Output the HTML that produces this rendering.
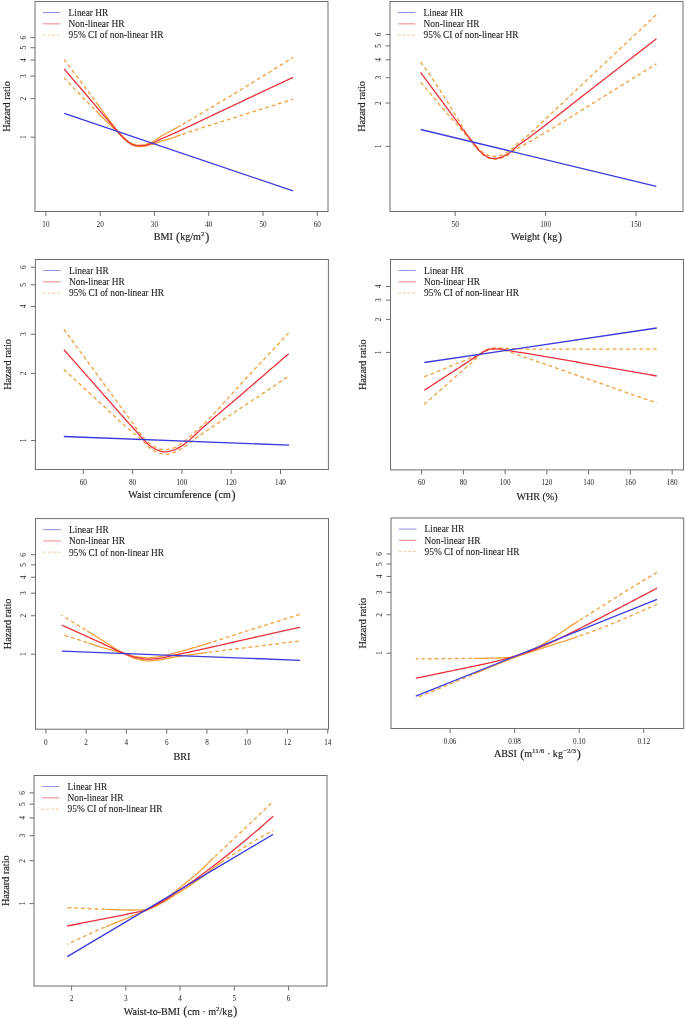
<!DOCTYPE html>
<html><head><meta charset="utf-8"><style>
html,body{margin:0;padding:0;background:#fff;}
body{width:685px;height:1018px;overflow:hidden;}
svg{display:block;will-change:transform;}
text{font-family:"Liberation Serif", serif;fill:#222;stroke:#222;stroke-width:0.16px;}
text.t{stroke:none;}
text.l{stroke-width:0.1px;}
</style></head><body>
<svg width="685" height="1018" viewBox="0 0 685 1018">
<rect width="685" height="1018" fill="#fff"/>
<rect x="35" y="1.5" width="293" height="210" fill="none" stroke="#6e6e6e" stroke-width="1"/>
<line x1="45.9" y1="211.5" x2="45.9" y2="216" stroke="#6e6e6e" stroke-width="1"/>
<text x="45.9" y="226.9" font-size="7.2" text-anchor="middle" class="t">10</text>
<line x1="100.18" y1="211.5" x2="100.18" y2="216" stroke="#6e6e6e" stroke-width="1"/>
<text x="100.18" y="226.9" font-size="7.2" text-anchor="middle" class="t">20</text>
<line x1="154.46" y1="211.5" x2="154.46" y2="216" stroke="#6e6e6e" stroke-width="1"/>
<text x="154.46" y="226.9" font-size="7.2" text-anchor="middle" class="t">30</text>
<line x1="208.74" y1="211.5" x2="208.74" y2="216" stroke="#6e6e6e" stroke-width="1"/>
<text x="208.74" y="226.9" font-size="7.2" text-anchor="middle" class="t">40</text>
<line x1="263.02" y1="211.5" x2="263.02" y2="216" stroke="#6e6e6e" stroke-width="1"/>
<text x="263.02" y="226.9" font-size="7.2" text-anchor="middle" class="t">50</text>
<line x1="317.3" y1="211.5" x2="317.3" y2="216" stroke="#6e6e6e" stroke-width="1"/>
<text x="317.3" y="226.9" font-size="7.2" text-anchor="middle" class="t">60</text>
<line x1="30.5" y1="137.2" x2="35" y2="137.2" stroke="#6e6e6e" stroke-width="1"/>
<text x="25.6" y="137.2" font-size="7.4" text-anchor="middle" transform="rotate(-90 25.6 137.2)" class="t">1</text>
<line x1="30.5" y1="98.66" x2="35" y2="98.66" stroke="#6e6e6e" stroke-width="1"/>
<text x="25.6" y="98.66" font-size="7.4" text-anchor="middle" transform="rotate(-90 25.6 98.66)" class="t">2</text>
<line x1="30.5" y1="76.12" x2="35" y2="76.12" stroke="#6e6e6e" stroke-width="1"/>
<text x="25.6" y="76.12" font-size="7.4" text-anchor="middle" transform="rotate(-90 25.6 76.12)" class="t">3</text>
<line x1="30.5" y1="60.12" x2="35" y2="60.12" stroke="#6e6e6e" stroke-width="1"/>
<text x="25.6" y="60.12" font-size="7.4" text-anchor="middle" transform="rotate(-90 25.6 60.12)" class="t">4</text>
<line x1="30.5" y1="47.72" x2="35" y2="47.72" stroke="#6e6e6e" stroke-width="1"/>
<text x="25.6" y="47.72" font-size="7.4" text-anchor="middle" transform="rotate(-90 25.6 47.72)" class="t">5</text>
<line x1="30.5" y1="37.58" x2="35" y2="37.58" stroke="#6e6e6e" stroke-width="1"/>
<text x="25.6" y="37.58" font-size="7.4" text-anchor="middle" transform="rotate(-90 25.6 37.58)" class="t">6</text>
<text x="10.1" y="106.5" font-size="10.2" text-anchor="middle" transform="rotate(-90 10.1 106.5)">Hazard ratio</text>
<text x="181.5" y="240.1" text-anchor="middle"><tspan font-size="10.1" dy="0">BMI </tspan><tspan font-size="12.2" dy="0.6" dx="0.7">(</tspan><tspan font-size="10.1" dy="-0.6">kg/m</tspan><tspan font-size="7.1" dy="-4.0">2</tspan><tspan font-size="12.2" dy="4.6" dx="0.7">)</tspan></text>
<line x1="42.8" y1="12.6" x2="60.3" y2="12.6" stroke="#3a3ae0" stroke-width="0.8" opacity="0.75"/>
<text x="68.6" y="15.9" font-size="9.35" text-anchor="start" class="l">Linear HR</text>
<line x1="42.8" y1="23.85" x2="60.3" y2="23.85" stroke="#e8313a" stroke-width="0.8" opacity="0.75"/>
<text x="68.6" y="27.15" font-size="9.35" text-anchor="start" class="l">Non-linear HR</text>
<line x1="42.8" y1="35.1" x2="60.3" y2="35.1" stroke="#f2a03c" stroke-width="0.8" opacity="0.75" stroke-dasharray="2.6 2.1"/>
<text x="68.6" y="38.4" font-size="9.35" text-anchor="start" class="l">95% CI of non-linear HR</text>
<path d="M94.42 99.87 L93.7 98.9 L92.98 97.93 L91.54 96 L90.1 94.07 L88.66 92.14 L87.22 90.21 L85.78 88.28 L84.35 86.36 L82.91 84.43 L81.47 82.51 L80.03 80.59 L78.59 78.67 L77.15 76.76 L75.71 74.84 L74.27 72.93 L72.83 71.02 L71.39 69.11 L69.96 67.2 L68.52 65.3 L67.08 63.4 L65.64 61.5 L64.2 59.6" fill="none" stroke="#f2a03c" stroke-width="1.3" stroke-dasharray="3.8 2.9"/>
<path d="M95.86 101.81 L97.3 103.77 L98.74 105.73 L100.17 107.69 L101.61 109.66 L103.05 111.63 L104.49 113.59 L105.93 115.55 L107.37 117.5 L108.81 119.44 L110.25 121.37 L111.69 123.29 L112 123.7 L113.13 125.2 L114.56 127.13 L116 129.01 L117.3 130.6 L117.44 130.77 L118.88 132.41 L120.32 133.98 L121.76 135.46 L122.5 136.2 L123.2 136.89 L124.64 138.3 L126.08 139.63 L127.52 140.79 L127.8 141 L128.95 141.81 L130.39 142.76 L131.83 143.54 L133 144 L133.27 144.08 L134.71 144.51 L136.15 144.86 L137.59 145.07 L138.3 145.1 L139.03 145.09 L140.47 145.04 L141.91 144.94 L143.34 144.81 L143.5 144.8 L144.78 144.6 L146.22 144.23 L147.66 143.77 L148.8 143.4 L149.1 143.3 L150.54 142.78 L151.98 142.18 L153.2 141.6 L153.42 141.49 L154.86 140.63 L156.3 139.61 L157.73 138.52 L159.17 137.44 L160.61 136.44 L161 136.2 L162.05 135.57 L163.49 134.76 L164.93 133.99 L166.37 133.24 L167.81 132.5 L169.25 131.76 L170.69 131.01 L172 130.3 L172.12 130.23 L173.56 129.44 L175 128.63 L176.44 127.82 L177.88 127.01 L179.32 126.19 L180 125.8 L180.76 125.37" fill="none" stroke="#f2a03c" stroke-width="1.3" stroke-linejoin="round"/>
<path d="M182.2 124.54 L183.64 123.71 L185.08 122.88 L186.51 122.05 L187.95 121.22 L189.39 120.38 L190.83 119.55 L192.27 118.71 L193.71 117.87 L195.15 117.03 L196.59 116.19 L198.03 115.35 L199.47 114.5 L200.9 113.65 L202.34 112.81 L203.78 111.96 L205.22 111.11 L206.66 110.26 L208.1 109.4 L209.54 108.55 L210.98 107.7 L212.42 106.84 L213.86 105.98 L215.29 105.12 L216.73 104.26 L218.17 103.4 L219.61 102.54 L221.05 101.68 L222.49 100.82 L223.93 99.95 L225.37 99.09 L226.81 98.22 L228.25 97.36 L229.68 96.49 L230 96.3 L231.12 95.62 L232.56 94.75 L234 93.88 L235.44 93.01 L236.88 92.14 L238.32 91.27 L239.76 90.4 L241.2 89.52 L242.64 88.65 L244.07 87.77 L245.51 86.89 L246.95 86.02 L248.39 85.14 L249.83 84.26 L251.27 83.38 L252.71 82.49 L254.15 81.61 L255.59 80.73 L257.03 79.84 L258.46 78.96 L259.9 78.07 L261.34 77.18 L262.78 76.29 L264.22 75.4 L265.66 74.51 L267.1 73.62 L268.54 72.73 L269.98 71.84 L271.42 70.94 L272.85 70.05 L274.29 69.15 L275.73 68.25 L277.17 67.35 L278.61 66.45 L280.05 65.55 L281.49 64.65 L282.93 63.75 L284.37 62.84 L285.81 61.94 L287.24 61.03 L288.68 60.13 L290.12 59.22 L291.56 58.31 L293 57.4" fill="none" stroke="#f2a03c" stroke-width="1.3" stroke-dasharray="3.8 2.9"/>
<path d="M94.42 109.3 L92.98 107.83 L91.54 106.36 L90.7 105.5 L90.1 104.89 L88.66 103.42 L87.22 101.95 L85.78 100.48 L84.35 99 L82.91 97.52 L81.47 96.04 L80.03 94.56 L78.59 93.07 L77.15 91.57 L75.71 90.08 L74.27 88.58 L72.83 87.08 L71.39 85.57 L69.96 84.07 L68.52 82.55 L67.08 81.04 L65.64 79.52 L64.2 78" fill="none" stroke="#f2a03c" stroke-width="1.3" stroke-dasharray="3.8 2.9"/>
<path d="M95.86 110.77 L97.3 112.24 L98.74 113.7 L100.17 115.16 L101.61 116.62 L103.05 118.07 L104.49 119.51 L105.93 120.94 L107.37 122.35 L108.81 123.75 L110.25 125.14 L111.69 126.5 L112 126.8 L113.13 127.83 L114.56 129.09 L116 130.36 L117.3 131.6 L117.44 131.74 L118.88 133.31 L120.32 134.99 L121.76 136.63 L122.5 137.4 L123.2 138.1 L124.64 139.5 L126.08 140.81 L127.52 141.99 L127.8 142.2 L128.95 143.05 L130.39 144.07 L131.83 144.92 L133 145.4 L133.27 145.48 L134.71 145.91 L136.15 146.26 L137.59 146.47 L138.3 146.5 L139.03 146.5 L140.47 146.48 L141.91 146.45 L143.34 146.41 L143.5 146.4 L144.78 146.25 L146.22 145.91 L147.66 145.49 L148.8 145.2 L149.1 145.13 L150.54 144.83 L151.98 144.51 L153.2 144.2 L153.42 144.14 L154.86 143.66 L156.3 143.09 L157.73 142.48 L159.17 141.88 L160.61 141.33 L161 141.2 L162.05 140.87 L163.49 140.45 L164.93 140.06 L166.37 139.68 L167.81 139.3 L169.25 138.92 L170.69 138.51 L172 138.1 L172.12 138.06 L173.56 137.56 L175 137.02 L176.44 136.45 L177.88 135.89 L179.32 135.35 L180 135.1 L180.76 134.83" fill="none" stroke="#f2a03c" stroke-width="1.3" stroke-linejoin="round"/>
<path d="M182.2 134.33 L183.64 133.83 L185.08 133.34 L186.51 132.85 L187.95 132.36 L189.39 131.88 L190.83 131.4 L192.27 130.92 L193.71 130.45 L195.15 129.98 L196.59 129.51 L198.03 129.05 L199.47 128.59 L200.9 128.13 L202.34 127.67 L203.78 127.21 L205.22 126.76 L206.66 126.31 L208.1 125.85 L209.54 125.4 L210.98 124.95 L212.42 124.5 L213.86 124.06 L215.29 123.61 L216.73 123.16 L218.17 122.71 L219.61 122.26 L221.05 121.81 L222.49 121.36 L223.93 120.91 L225.37 120.46 L226.81 120.01 L228.25 119.56 L229.68 119.1 L230 119 L231.12 118.64 L232.56 118.19 L234 117.73 L235.44 117.27 L236.88 116.82 L238.32 116.36 L239.76 115.91 L241.2 115.45 L242.64 115 L244.07 114.55 L245.51 114.09 L246.95 113.64 L248.39 113.19 L249.83 112.73 L251.27 112.28 L252.71 111.83 L254.15 111.38 L255.59 110.92 L257.03 110.47 L258.46 110.02 L259.9 109.57 L261.34 109.12 L262.78 108.67 L264.22 108.22 L265.66 107.77 L267.1 107.32 L268.54 106.87 L269.98 106.43 L271.42 105.98 L272.85 105.53 L274.29 105.08 L275.73 104.64 L277.17 104.19 L278.61 103.74 L280.05 103.3 L281.49 102.85 L282.93 102.41 L284.37 101.96 L285.81 101.52 L287.24 101.07 L288.68 100.63 L290.12 100.19 L291.56 99.74 L293 99.3" fill="none" stroke="#f2a03c" stroke-width="1.3" stroke-dasharray="3.8 2.9"/>
<path d="M64.2 69 L65.64 70.68 L67.08 72.37 L68.52 74.05 L69.96 75.73 L71.39 77.42 L72.83 79.1 L74.27 80.78 L75.71 82.47 L77.15 84.15 L78.59 85.84 L80.03 87.52 L81.47 89.21 L82.91 90.89 L84.35 92.58 L85.78 94.26 L87.22 95.95 L88.66 97.63 L90 99.2 L90.1 99.32 L91.54 101.01 L92.98 102.7 L94.42 104.39 L95.86 106.08 L97.3 107.78 L98.74 109.47 L100.17 111.16 L101.61 112.86 L103.05 114.55 L104.49 116.24 L105.93 117.92 L107.37 119.61 L108.81 121.29 L110.25 122.96 L111.69 124.64 L112 125 L113.13 126.31 L114.56 127.98 L116 129.63 L117.3 131.1 L117.44 131.26 L118.88 132.89 L120.32 134.5 L121.76 136.05 L122.5 136.8 L123.2 137.49 L124.64 138.9 L126.08 140.22 L127.52 141.39 L127.8 141.6 L128.95 142.43 L130.39 143.41 L131.83 144.23 L133 144.7 L133.27 144.78 L134.71 145.21 L136.15 145.56 L137.59 145.77 L138.3 145.8 L139.03 145.8 L140.47 145.76 L141.91 145.7 L143.34 145.61 L143.5 145.6 L144.78 145.42 L146.22 145.06 L147.66 144.63 L148.8 144.3 L149.1 144.22 L150.54 143.83 L151.98 143.41 L153.2 143 L153.42 142.92 L154.86 142.29 L156.3 141.55 L157.73 140.75 L159.17 139.94 L160.61 139.19 L161 139 L162.05 138.51 L163.49 137.86 L164.93 137.23 L166.37 136.61 L167.81 136 L169.25 135.39 L170.69 134.78 L172 134.2 L172.12 134.14 L173.56 133.51 L175 132.86 L176.44 132.22 L177.88 131.57 L179.32 130.91 L180 130.6 L180.76 130.25 L182.2 129.59 L183.64 128.93 L185.08 128.26 L186.51 127.59 L187.95 126.92 L189.39 126.25 L190.83 125.58 L192.27 124.9 L193.71 124.23 L195.15 123.55 L196.59 122.87 L198.03 122.19 L199.47 121.51 L200.9 120.83 L202.34 120.14 L203.78 119.46 L205.22 118.78 L206.66 118.09 L208.1 117.4 L209.54 116.72 L210.98 116.03 L212.42 115.35 L213.86 114.66 L215.29 113.98 L216.73 113.29 L218.17 112.61 L219.61 111.92 L221.05 111.24 L222.49 110.55 L223.93 109.87 L225.37 109.19 L226.81 108.51 L228.25 107.83 L229.68 107.15 L230 107 L231.12 106.47 L232.56 105.79 L234 105.12 L235.44 104.44 L236.88 103.76 L238.32 103.08 L239.76 102.41 L241.2 101.73 L242.64 101.05 L244.07 100.37 L245.51 99.7 L246.95 99.02 L248.39 98.34 L249.83 97.67 L251.27 96.99 L252.71 96.31 L254.15 95.64 L255.59 94.96 L257.03 94.28 L258.46 93.61 L259.9 92.93 L261.34 92.26 L262.78 91.58 L264.22 90.9 L265.66 90.23 L267.1 89.55 L268.54 88.88 L269.98 88.2 L271.42 87.52 L272.85 86.85 L274.29 86.17 L275.73 85.5 L277.17 84.82 L278.61 84.15 L280.05 83.47 L281.49 82.8 L282.93 82.12 L284.37 81.45 L285.81 80.77 L287.24 80.1 L288.68 79.42 L290.12 78.75 L291.56 78.07 L293 77.4" fill="none" stroke="#e8313a" stroke-width="1.3" stroke-linejoin="round"/>
<path d="M64.2 113.3 L293 190.9" fill="none" stroke="#3a3ae0" stroke-width="1.3" stroke-linejoin="round"/>
<rect x="390" y="1.5" width="293" height="210" fill="none" stroke="#6e6e6e" stroke-width="1"/>
<line x1="455.2" y1="211.5" x2="455.2" y2="216" stroke="#6e6e6e" stroke-width="1"/>
<text x="455.2" y="226.9" font-size="7.2" text-anchor="middle" class="t">50</text>
<line x1="545.6" y1="211.5" x2="545.6" y2="216" stroke="#6e6e6e" stroke-width="1"/>
<text x="545.6" y="226.9" font-size="7.2" text-anchor="middle" class="t">100</text>
<line x1="636" y1="211.5" x2="636" y2="216" stroke="#6e6e6e" stroke-width="1"/>
<text x="636" y="226.9" font-size="7.2" text-anchor="middle" class="t">150</text>
<line x1="385.5" y1="146.3" x2="390" y2="146.3" stroke="#6e6e6e" stroke-width="1"/>
<text x="380.6" y="146.3" font-size="7.4" text-anchor="middle" transform="rotate(-90 380.6 146.3)" class="t">1</text>
<line x1="385.5" y1="103.05" x2="390" y2="103.05" stroke="#6e6e6e" stroke-width="1"/>
<text x="380.6" y="103.05" font-size="7.4" text-anchor="middle" transform="rotate(-90 380.6 103.05)" class="t">2</text>
<line x1="385.5" y1="77.75" x2="390" y2="77.75" stroke="#6e6e6e" stroke-width="1"/>
<text x="380.6" y="77.75" font-size="7.4" text-anchor="middle" transform="rotate(-90 380.6 77.75)" class="t">3</text>
<line x1="385.5" y1="59.8" x2="390" y2="59.8" stroke="#6e6e6e" stroke-width="1"/>
<text x="380.6" y="59.8" font-size="7.4" text-anchor="middle" transform="rotate(-90 380.6 59.8)" class="t">4</text>
<line x1="385.5" y1="45.87" x2="390" y2="45.87" stroke="#6e6e6e" stroke-width="1"/>
<text x="380.6" y="45.87" font-size="7.4" text-anchor="middle" transform="rotate(-90 380.6 45.87)" class="t">5</text>
<line x1="385.5" y1="34.49" x2="390" y2="34.49" stroke="#6e6e6e" stroke-width="1"/>
<text x="380.6" y="34.49" font-size="7.4" text-anchor="middle" transform="rotate(-90 380.6 34.49)" class="t">6</text>
<text x="365.1" y="106.5" font-size="10.2" text-anchor="middle" transform="rotate(-90 365.1 106.5)">Hazard ratio</text>
<text x="536.5" y="240.4" text-anchor="middle"><tspan font-size="10.1" dy="0">Weight </tspan><tspan font-size="12.2" dy="0.6" dx="0.7">(</tspan><tspan font-size="10.1" dy="-0.6">kg</tspan><tspan font-size="12.2" dy="0.6" dx="0.7">)</tspan></text>
<line x1="397.8" y1="12.6" x2="415.3" y2="12.6" stroke="#3a3ae0" stroke-width="0.8" opacity="0.75"/>
<text x="423.6" y="15.9" font-size="9.35" text-anchor="start" class="l">Linear HR</text>
<line x1="397.8" y1="23.85" x2="415.3" y2="23.85" stroke="#e8313a" stroke-width="0.8" opacity="0.75"/>
<text x="423.6" y="27.15" font-size="9.35" text-anchor="start" class="l">Non-linear HR</text>
<line x1="397.8" y1="35.1" x2="415.3" y2="35.1" stroke="#f2a03c" stroke-width="0.8" opacity="0.75" stroke-dasharray="2.6 2.1"/>
<text x="423.6" y="38.4" font-size="9.35" text-anchor="start" class="l">95% CI of non-linear HR</text>
<path d="M420.7 62 L422.18 64.04 L423.66 66.1 L425.15 68.18 L426.63 70.28 L428.11 72.4 L429.59 74.55 L431.08 76.71 L432.56 78.9 L434.04 81.1 L435.52 83.32 L437.01 85.55 L438.49 87.81 L439.97 90.08 L441.45 92.36 L442.94 94.66 L444.42 96.97 L445.9 99.3 L445.9 99.3 L447.38 101.66 L448.87 104.07 L450.35 106.51 L451.83 108.98 L453.31 111.48 L454.79 113.98 L456.28 116.5 L457.76 119 L459.24 121.5 L460.72 123.98 L461.4 125.1 L462.21 126.46 L463.69 129.05 L465.17 131.69 L466.65 134.29 L468.14 136.74 L469.62 138.97 L470.7 140.4 L471.1 140.89 L472.58 142.57 L474.07 144.11 L475.55 145.52 L477.03 146.86 L478.1 147.8 L478.51 148.16 L480 149.52 L481.48 150.89 L482.96 152.2 L484.44 153.39 L485.93 154.37 L487.41 155.07 L487.8 155.2 L488.89 155.52 L490.37 155.92 L491.85 156.22 L493.34 156.39 L493.9 156.4 L494.82 156.37 L496.3 156.24 L497.78 156.02 L499.27 155.75 L500 155.6 L500.75 155.41 L502.23 154.85 L503.71 154.14 L505.2 153.35 L505.3 153.3 L506.68 152.52 L508.16 151.57 L509.64 150.53 L511.13 149.41 L511.4 149.2 L512.61 148.17 L514.09 146.75 L515.57 145.27 L517.06 143.88 L517.5 143.5 L518.54 142.67 L520.02 141.56 L521.5 140.5 L522.98 139.44 L524.47 138.32 L525 137.9 L525.95 137.12 L527.43 135.87 L528.91 134.58 L530.4 133.26 L531.88 131.91 L533.36 130.53 L534.84 129.14 L536.33 127.74 L537.81 126.32 L539.29 124.91 L540.77 123.49 L542.26 122.08 L543.74 120.68 L545 119.5 L545.22 119.29 L546.7 117.91 L548.19 116.53 L549.67 115.15 L551.15 113.76 L552.63 112.37 L554.12 110.98 L555.6 109.59 L557.08 108.2 L558.56 106.8 L560.04 105.4 L561.53 104.01 L563.01 102.61 L564.49 101.21 L565.97 99.8 L567.46 98.4 L568.94 97 L570.42 95.59 L571.9 94.19 L573.39 92.79 L574.87 91.38 L576.35 89.97 L577.83 88.57 L579.32 87.16 L580.8 85.76 L582.28 84.35 L583.76 82.95 L585.25 81.54 L586.73 80.14 L588.21 78.73 L589.69 77.33 L591.17 75.93 L592.66 74.52 L594.14 73.12 L595.62 71.73 L597.1 70.33 L598.59 68.93 L600 67.6 L600.07 67.53 L601.55 66.14 L603.03 64.75 L604.52 63.35 L606 61.96 L607.48 60.56 L608.96 59.17 L610.45 57.78 L611.93 56.39 L613.41 54.99 L614.89 53.6 L616.38 52.21 L617.86 50.82 L619.34 49.42 L620.82 48.03 L622.31 46.64 L623.79 45.25 L625.27 43.86 L626.75 42.47 L628.23 41.08 L629.72 39.69 L631.2 38.3 L632.68 36.91 L634.16 35.52 L635.65 34.13 L637.13 32.74 L638.61 31.35 L640.09 29.96 L641.58 28.57 L643.06 27.18 L644.54 25.8 L646.02 24.41 L647.51 23.02 L648.99 21.63 L650.47 20.25 L651.95 18.86 L653.44 17.47 L654.92 16.09 L656.4 14.7" fill="none" stroke="#f2a03c" stroke-width="1.3" stroke-dasharray="3.8 2.9"/>
<path d="M420.7 82.3 L422.18 84.07 L423.66 85.84 L425.15 87.61 L426.63 89.37 L428.11 91.13 L429.59 92.89 L431.08 94.64 L432.56 96.39 L434.04 98.13 L435.52 99.88 L437.01 101.62 L438.49 103.35 L439.97 105.09 L441.45 106.82 L442.94 108.55 L444.42 110.28 L445.9 112 L445.9 112 L447.38 113.72 L448.87 115.42 L450.35 117.11 L451.83 118.8 L453.31 120.49 L454.79 122.17 L456.28 123.86 L457.76 125.57 L459.24 127.28 L460.72 129.01 L461.4 129.8 L462.21 130.75 L463.69 132.52 L465.17 134.3 L466.65 136.09 L468.14 137.89 L469.62 139.69 L470.7 141 L471.1 141.49 L472.58 143.37 L474.07 145.28 L475.55 147.14 L477.03 148.87 L478.1 150 L478.51 150.41 L480 151.91 L481.48 153.39 L482.96 154.79 L484.44 156.05 L485.93 157.09 L487.41 157.85 L487.8 158 L488.89 158.37 L490.37 158.83 L491.85 159.19 L493.34 159.38 L493.9 159.4 L494.82 159.37 L496.3 159.24 L497.78 159.02 L499.27 158.75 L500 158.6 L500.75 158.42 L502.23 157.9 L503.71 157.25 L505.2 156.55 L505.3 156.5 L506.68 155.81 L508.16 155 L509.64 154.11 L511.13 153.18 L511.4 153 L512.61 152.16 L514.09 151.02 L515.57 149.86 L517.06 148.79 L517.5 148.5 L518.54 147.87 L520.02 147.04 L521.5 146.25 L522.98 145.48 L524.47 144.69 L525 144.4 L525.95 143.87 L527.43 143.03 L528.91 142.19 L530.4 141.34 L531.88 140.49 L533.36 139.64 L534.84 138.78 L536.33 137.92 L537.81 137.05 L539.29 136.18 L540.77 135.31 L542.26 134.43 L543.74 133.55 L545 132.8 L545.22 132.67 L546.7 131.78 L548.19 130.9 L549.67 130 L551.15 129.11 L552.63 128.21 L554.12 127.31 L555.6 126.41 L557.08 125.5 L558.56 124.59 L560.04 123.68 L561.53 122.77 L563.01 121.86 L564.49 120.94 L565.97 120.02 L567.46 119.1 L568.94 118.18 L570.42 117.26 L571.9 116.34 L573.39 115.41 L574.87 114.49 L576.35 113.56 L577.83 112.63 L579.32 111.71 L580.8 110.78 L582.28 109.85 L583.76 108.92 L585.25 108 L586.73 107.07 L588.21 106.14 L589.69 105.22 L591.17 104.29 L592.66 103.36 L594.14 102.44 L595.62 101.52 L597.1 100.6 L598.59 99.68 L600 98.8 L600.07 98.76 L601.55 97.84 L603.03 96.92 L604.52 96 L606 95.08 L607.48 94.17 L608.96 93.25 L610.45 92.33 L611.93 91.41 L613.41 90.49 L614.89 89.57 L616.38 88.65 L617.86 87.73 L619.34 86.81 L620.82 85.89 L622.31 84.97 L623.79 84.05 L625.27 83.14 L626.75 82.22 L628.23 81.3 L629.72 80.38 L631.2 79.46 L632.68 78.54 L634.16 77.62 L635.65 76.69 L637.13 75.77 L638.61 74.85 L640.09 73.93 L641.58 73.01 L643.06 72.09 L644.54 71.17 L646.02 70.25 L647.51 69.33 L648.99 68.41 L650.47 67.49 L651.95 66.56 L653.44 65.64 L654.92 64.72 L656.4 63.8" fill="none" stroke="#f2a03c" stroke-width="1.3" stroke-dasharray="3.8 2.9"/>
<path d="M420.7 72.5 L422.18 74.52 L423.66 76.53 L425.15 78.54 L426.63 80.56 L428.11 82.57 L429.59 84.58 L431.08 86.58 L432.56 88.59 L434.04 90.6 L435.52 92.6 L437.01 94.61 L438.49 96.61 L439.97 98.61 L441.45 100.61 L442.94 102.61 L444.42 104.6 L445.9 106.6 L445.9 106.6 L447.38 108.6 L448.87 110.6 L450.35 112.61 L451.83 114.61 L453.31 116.62 L454.79 118.62 L456.28 120.61 L457.76 122.61 L459.24 124.59 L460.72 126.57 L462.21 128.53 L463.69 130.48 L465 132.2 L465.17 132.42 L466.65 134.33 L468.14 136.21 L469.62 138.09 L471.1 139.97 L472.58 141.89 L472.9 142.3 L474.07 143.89 L475.55 145.99 L477.03 148 L478.1 149.3 L478.51 149.76 L480 151.33 L481.48 152.74 L482.5 153.6 L482.96 153.97 L484.44 155.13 L485.93 156.17 L487.41 156.95 L487.8 157.1 L488.89 157.47 L490.37 157.93 L491.85 158.29 L493.34 158.48 L493.9 158.5 L494.82 158.47 L496.3 158.32 L497.78 158.07 L499.27 157.76 L500 157.6 L500.75 157.4 L502.23 156.87 L503.71 156.19 L505.2 155.45 L505.3 155.4 L506.68 154.66 L508.16 153.77 L509.64 152.78 L511.13 151.71 L511.4 151.5 L512.61 150.48 L514.09 149.05 L515.57 147.56 L517.06 146.17 L517.5 145.8 L518.54 144.99 L520.02 143.92 L521.5 142.91 L522.98 141.91 L524.47 140.88 L525 140.5 L525.95 139.81 L527.43 138.72 L528.91 137.62 L530.4 136.52 L531.88 135.42 L533.36 134.31 L534.84 133.19 L536.33 132.07 L537.81 130.95 L539.29 129.82 L540.77 128.69 L542.26 127.56 L543.74 126.42 L545.22 125.27 L546.7 124.13 L548.19 122.98 L549.67 121.83 L551.15 120.67 L552.63 119.52 L554.12 118.36 L555.6 117.2 L557.08 116.04 L558.56 114.87 L560.04 113.71 L561.53 112.54 L563.01 111.38 L564.49 110.21 L565.97 109.04 L567.46 107.87 L568.94 106.7 L570.42 105.53 L571.9 104.36 L573.39 103.2 L574.87 102.03 L576.35 100.86 L577.83 99.7 L579.32 98.53 L580.8 97.37 L582.28 96.21 L583.76 95.05 L585.25 93.89 L586.73 92.74 L588.21 91.59 L589.69 90.44 L590 90.2 L591.17 89.29 L592.66 88.14 L594.14 87 L595.62 85.85 L597.1 84.7 L598.59 83.55 L600.07 82.41 L601.55 81.26 L603.03 80.11 L604.52 78.96 L606 77.82 L607.48 76.67 L608.96 75.52 L610.45 74.37 L611.93 73.23 L613.41 72.08 L614.89 70.93 L616.38 69.78 L617.86 68.64 L619.34 67.49 L620.82 66.34 L622.31 65.19 L623.79 64.05 L625.27 62.9 L626.75 61.75 L628.23 60.6 L629.72 59.46 L631.2 58.31 L632.68 57.16 L634.16 56.01 L635.65 54.87 L637.13 53.72 L638.61 52.57 L640.09 51.42 L641.58 50.28 L643.06 49.13 L644.54 47.98 L646.02 46.83 L647.51 45.69 L648.99 44.54 L650.47 43.39 L651.95 42.24 L653.44 41.1 L654.92 39.95 L656.4 38.8" fill="none" stroke="#e8313a" stroke-width="1.3" stroke-linejoin="round"/>
<path d="M420.7 129.5 L656.3 186.3" fill="none" stroke="#3a3ae0" stroke-width="1.3" stroke-linejoin="round"/>
<rect x="35.4" y="259.5" width="293" height="210" fill="none" stroke="#6e6e6e" stroke-width="1"/>
<line x1="83.3" y1="469.5" x2="83.3" y2="474" stroke="#6e6e6e" stroke-width="1"/>
<text x="83.3" y="484.9" font-size="7.2" text-anchor="middle" class="t">60</text>
<line x1="132.6" y1="469.5" x2="132.6" y2="474" stroke="#6e6e6e" stroke-width="1"/>
<text x="132.6" y="484.9" font-size="7.2" text-anchor="middle" class="t">80</text>
<line x1="181.9" y1="469.5" x2="181.9" y2="474" stroke="#6e6e6e" stroke-width="1"/>
<text x="181.9" y="484.9" font-size="7.2" text-anchor="middle" class="t">100</text>
<line x1="231.2" y1="469.5" x2="231.2" y2="474" stroke="#6e6e6e" stroke-width="1"/>
<text x="231.2" y="484.9" font-size="7.2" text-anchor="middle" class="t">120</text>
<line x1="280.5" y1="469.5" x2="280.5" y2="474" stroke="#6e6e6e" stroke-width="1"/>
<text x="280.5" y="484.9" font-size="7.2" text-anchor="middle" class="t">140</text>
<line x1="30.9" y1="440.5" x2="35.4" y2="440.5" stroke="#6e6e6e" stroke-width="1"/>
<text x="26" y="440.5" font-size="7.4" text-anchor="middle" transform="rotate(-90 26 440.5)" class="t">1</text>
<line x1="30.9" y1="373.47" x2="35.4" y2="373.47" stroke="#6e6e6e" stroke-width="1"/>
<text x="26" y="373.47" font-size="7.4" text-anchor="middle" transform="rotate(-90 26 373.47)" class="t">2</text>
<line x1="30.9" y1="334.26" x2="35.4" y2="334.26" stroke="#6e6e6e" stroke-width="1"/>
<text x="26" y="334.26" font-size="7.4" text-anchor="middle" transform="rotate(-90 26 334.26)" class="t">3</text>
<line x1="30.9" y1="306.45" x2="35.4" y2="306.45" stroke="#6e6e6e" stroke-width="1"/>
<text x="26" y="306.45" font-size="7.4" text-anchor="middle" transform="rotate(-90 26 306.45)" class="t">4</text>
<line x1="30.9" y1="284.87" x2="35.4" y2="284.87" stroke="#6e6e6e" stroke-width="1"/>
<text x="26" y="284.87" font-size="7.4" text-anchor="middle" transform="rotate(-90 26 284.87)" class="t">5</text>
<line x1="30.9" y1="267.24" x2="35.4" y2="267.24" stroke="#6e6e6e" stroke-width="1"/>
<text x="26" y="267.24" font-size="7.4" text-anchor="middle" transform="rotate(-90 26 267.24)" class="t">6</text>
<text x="10.5" y="364.5" font-size="10.2" text-anchor="middle" transform="rotate(-90 10.5 364.5)">Hazard ratio</text>
<text x="181.9" y="498.3" text-anchor="middle"><tspan font-size="10.1" dy="0">Waist circumference </tspan><tspan font-size="12.2" dy="0.6" dx="0.7">(</tspan><tspan font-size="10.1" dy="-0.6">cm</tspan><tspan font-size="12.2" dy="0.6" dx="0.7">)</tspan></text>
<line x1="43.2" y1="270.6" x2="60.7" y2="270.6" stroke="#3a3ae0" stroke-width="0.8" opacity="0.75"/>
<text x="69" y="273.9" font-size="9.35" text-anchor="start" class="l">Linear HR</text>
<line x1="43.2" y1="281.85" x2="60.7" y2="281.85" stroke="#e8313a" stroke-width="0.8" opacity="0.75"/>
<text x="69" y="285.15" font-size="9.35" text-anchor="start" class="l">Non-linear HR</text>
<line x1="43.2" y1="293.1" x2="60.7" y2="293.1" stroke="#f2a03c" stroke-width="0.8" opacity="0.75" stroke-dasharray="2.6 2.1"/>
<text x="69" y="296.4" font-size="9.35" text-anchor="start" class="l">95% CI of non-linear HR</text>
<path d="M63.8 329.2 L65.21 331.12 L66.63 333.05 L68.04 334.97 L69.46 336.89 L70.87 338.82 L72.29 340.74 L73.7 342.67 L75.12 344.59 L76.53 346.52 L77.94 348.44 L79.36 350.37 L80.77 352.29 L82.19 354.22 L83.6 356.15 L85.02 358.07 L86.43 360 L87.85 361.93 L89.26 363.85 L90.67 365.78 L92.09 367.71 L93.5 369.64 L94.92 371.57 L96.33 373.5 L97.75 375.43 L99.16 377.36 L100 378.5 L100.58 379.29 L101.99 381.21 L103.41 383.14 L104.82 385.07 L106.23 386.99 L107.65 388.92 L109.06 390.84 L110.48 392.77 L111.89 394.7 L113.31 396.62 L114.72 398.55 L116.14 400.48 L117.55 402.41 L118.96 404.34 L120.38 406.27 L121.79 408.21 L123.21 410.15 L124.62 412.09 L126.04 414.03 L127.45 415.98 L128.87 417.93 L130 419.5 L130.28 419.89 L131.69 421.86 L133.11 423.85 L134.52 425.83 L135.94 427.78 L136.1 428 L137.35 429.73 L138.77 431.71 L140.18 433.65 L141.6 435.5 L143.01 437.18 L143.3 437.5 L144.42 438.69 L145.84 440.13 L147.25 441.47 L148.67 442.69 L150.08 443.78 L150.4 444 L151.5 444.75 L152.91 445.67 L154.33 446.52 L155.74 447.26 L157.15 447.85 L157.6 448 L158.57 448.31 L159.98 448.76 L161.4 449.15 L162.81 449.44 L164.23 449.59 L164.7 449.6 L165.64 449.57 L167.06 449.44 L168.47 449.23 L169.88 448.95 L171.3 448.64 L171.9 448.5 L172.71 448.27 L174.13 447.72 L175.54 447.01 L176.96 446.21 L178.37 445.37 L179 445 L179.79 444.52 L181.2 443.59 L182.62 442.58 L184.03 441.52 L185.44 440.41 L186.86 439.28 L187.2 439 L188.27 438.11 L189.69 436.86 L191.1 435.58 L192.52 434.29 L193.4 433.5 L193.93 433.03 L195.35 431.81 L196.76 430.6 L198.17 429.36 L199.59 428.08 L200 427.7 L201 426.75 L202.42 425.39 L203.83 424.01 L205.25 422.61 L206.66 421.19 L208.08 419.76 L209.49 418.31 L210.9 416.84 L212.32 415.36 L213.73 413.86 L215.15 412.36 L216.56 410.84 L217.98 409.31 L219.39 407.77 L220.81 406.23 L222.22 404.67 L223.63 403.11 L225.05 401.55 L226.46 399.98 L227.88 398.41 L229.29 396.84 L230.71 395.27 L232.12 393.7 L233.54 392.13 L234.95 390.56 L236.36 389 L237.78 387.44 L239.19 385.89 L240.61 384.34 L242.02 382.81 L243.44 381.28 L244.85 379.76 L245 379.6 L246.27 378.25 L247.68 376.74 L249.09 375.22 L250.51 373.71 L251.92 372.2 L253.34 370.69 L254.75 369.18 L256.17 367.67 L257.58 366.15 L259 364.64 L260.41 363.13 L261.83 361.62 L263.24 360.11 L264.65 358.6 L266.07 357.08 L267.48 355.57 L268.9 354.06 L270.31 352.55 L271.73 351.04 L273.14 349.53 L274.56 348.01 L275.97 346.5 L277.38 344.99 L278.8 343.48 L280.21 341.97 L281.63 340.46 L283.04 338.95 L284.46 337.43 L285.87 335.92 L287.29 334.41 L288.7 332.9" fill="none" stroke="#f2a03c" stroke-width="1.3" stroke-dasharray="3.8 2.9"/>
<path d="M63.8 369.5 L65.21 370.8 L66.63 372.1 L68.04 373.39 L69.46 374.69 L70.87 375.99 L72.29 377.29 L73.7 378.58 L75.12 379.88 L76.53 381.18 L77.94 382.47 L79.36 383.77 L80.77 385.07 L82.19 386.37 L83.6 387.66 L85.02 388.96 L86.43 390.26 L87.85 391.56 L89.26 392.85 L90.67 394.15 L92.09 395.45 L93.5 396.74 L94.92 398.04 L96.33 399.34 L97.75 400.63 L99.16 401.93 L100 402.7 L100.58 403.23 L101.99 404.54 L103.41 405.85 L104.82 407.17 L106.23 408.5 L107.65 409.83 L109.06 411.17 L110.48 412.5 L111.89 413.84 L113.31 415.17 L114.72 416.5 L116.14 417.83 L117.55 419.15 L118.96 420.45 L120.38 421.75 L121.79 423.04 L123.21 424.31 L124.62 425.57 L126.04 426.82 L127.45 428.04 L128.87 429.25 L130 430.2 L130.28 430.43 L131.69 431.56 L133.11 432.64 L134.52 433.73 L135.94 434.86 L136.1 435 L137.35 436.07 L138.77 437.32 L140.18 438.6 L141.6 439.9 L143.01 441.23 L143.3 441.5 L144.42 442.62 L145.84 444.12 L147.25 445.63 L148.67 447.05 L150.08 448.27 L150.4 448.5 L151.5 449.26 L152.91 450.19 L154.33 451.02 L155.74 451.75 L157.15 452.34 L157.6 452.5 L158.57 452.83 L159.98 453.3 L161.4 453.71 L162.81 454.03 L164.23 454.19 L164.7 454.2 L165.64 454.17 L167.06 454.02 L168.47 453.78 L169.88 453.48 L171.3 453.14 L171.9 453 L172.71 452.78 L174.13 452.29 L175.54 451.69 L176.96 451.02 L178.37 450.31 L179 450 L179.79 449.6 L181.2 448.83 L182.62 448 L184.03 447.12 L185.44 446.2 L186.86 445.24 L187.2 445 L188.27 444.21 L189.69 443.06 L191.1 441.87 L192.52 440.69 L193.4 440 L193.93 439.6 L195.35 438.56 L196.76 437.56 L198.17 436.57 L199.59 435.59 L200 435.3 L201 434.6 L202.42 433.63 L203.83 432.66 L205.25 431.69 L206.66 430.73 L208.08 429.77 L209.49 428.81 L210.9 427.86 L212.32 426.91 L213.73 425.96 L215.15 425.02 L216.56 424.07 L217.98 423.13 L219.39 422.2 L220.81 421.26 L222.22 420.33 L223.63 419.39 L225.05 418.46 L226.46 417.53 L227.88 416.6 L229.29 415.67 L230.71 414.74 L232.12 413.81 L233.54 412.88 L234.95 411.95 L236.36 411.02 L237.78 410.08 L239.19 409.15 L240.61 408.22 L242.02 407.28 L243.44 406.34 L244.85 405.4 L245 405.3 L246.27 404.46 L247.68 403.51 L249.09 402.57 L250.51 401.63 L251.92 400.69 L253.34 399.74 L254.75 398.8 L256.17 397.86 L257.58 396.92 L259 395.98 L260.41 395.03 L261.83 394.09 L263.24 393.15 L264.65 392.21 L266.07 391.27 L267.48 390.32 L268.9 389.38 L270.31 388.44 L271.73 387.5 L273.14 386.56 L274.56 385.62 L275.97 384.67 L277.38 383.73 L278.8 382.79 L280.21 381.85 L281.63 380.91 L283.04 379.97 L284.46 379.02 L285.87 378.08 L287.29 377.14 L288.7 376.2" fill="none" stroke="#f2a03c" stroke-width="1.3" stroke-dasharray="3.8 2.9"/>
<path d="M63.8 349.6 L65.21 351.2 L66.63 352.8 L68.04 354.4 L69.46 356.01 L70.87 357.61 L72.29 359.21 L73.7 360.81 L75.12 362.41 L76.53 364.01 L77.94 365.62 L79.36 367.22 L80.77 368.82 L82.19 370.42 L83.6 372.02 L85.02 373.63 L86.43 375.23 L87.85 376.83 L89.26 378.43 L90.67 380.04 L92.09 381.64 L93.5 383.24 L94.92 384.84 L96.33 386.45 L97.75 388.05 L99.16 389.65 L100 390.6 L100.58 391.25 L101.99 392.86 L103.41 394.47 L104.82 396.08 L106.23 397.7 L107.65 399.31 L109.06 400.93 L110.48 402.55 L111.89 404.17 L113.31 405.78 L114.72 407.4 L116.14 409.01 L117.55 410.62 L118.96 412.23 L120.38 413.84 L121.79 415.44 L123.21 417.03 L124.62 418.62 L126.04 420.2 L127.45 421.78 L128.87 423.35 L130 424.6 L130.28 424.91 L131.69 426.44 L133.11 427.96 L134.52 429.48 L135.94 431.02 L136.1 431.2 L137.35 432.62 L138.77 434.27 L140.18 435.93 L141.6 437.56 L143.01 439.1 L143.3 439.4 L144.42 440.57 L145.84 442.03 L147.25 443.44 L148.67 444.74 L150.08 445.87 L150.4 446.1 L151.5 446.85 L152.91 447.77 L154.33 448.6 L155.74 449.33 L157.15 449.94 L157.6 450.1 L158.57 450.44 L159.98 450.94 L161.4 451.38 L162.81 451.71 L164.23 451.89 L164.7 451.9 L165.64 451.87 L167.06 451.72 L168.47 451.48 L169.88 451.18 L171.3 450.85 L171.9 450.7 L172.71 450.48 L174.13 449.98 L175.54 449.36 L176.96 448.67 L178.37 447.93 L179 447.6 L179.79 447.17 L181.2 446.32 L182.62 445.39 L184.03 444.4 L185.44 443.35 L186.86 442.27 L187.2 442 L188.27 441.12 L189.69 439.87 L191.1 438.56 L192.52 437.22 L193.4 436.4 L193.93 435.91 L195.35 434.58 L196.76 433.23 L198.17 431.89 L199.59 430.58 L200 430.2 L201 429.29 L202.42 428.01 L203.83 426.75 L205.25 425.49 L206.66 424.23 L208.08 422.98 L209.49 421.74 L210.9 420.51 L212.32 419.28 L213.73 418.05 L215.15 416.83 L216.56 415.61 L217.98 414.4 L219.39 413.19 L220.81 411.98 L222.22 410.78 L223.63 409.57 L225.05 408.37 L226.46 407.17 L227.88 405.98 L229.29 404.78 L230.71 403.58 L232.12 402.38 L233.54 401.18 L234.95 399.99 L236.36 398.78 L237.78 397.58 L239.19 396.38 L240.61 395.17 L242.02 393.96 L243.44 392.75 L244.85 391.53 L245 391.4 L246.27 390.31 L247.68 389.09 L249.09 387.87 L250.51 386.65 L251.92 385.43 L253.34 384.21 L254.75 382.99 L256.17 381.77 L257.58 380.55 L259 379.33 L260.41 378.11 L261.83 376.89 L263.24 375.67 L264.65 374.45 L266.07 373.23 L267.48 372.01 L268.9 370.79 L270.31 369.57 L271.73 368.35 L273.14 367.13 L274.56 365.9 L275.97 364.68 L277.38 363.46 L278.8 362.24 L280.21 361.02 L281.63 359.8 L283.04 358.58 L284.46 357.36 L285.87 356.14 L287.29 354.92 L288.7 353.7" fill="none" stroke="#e8313a" stroke-width="1.3" stroke-linejoin="round"/>
<path d="M63.8 436.5 L289.1 445.1" fill="none" stroke="#3a3ae0" stroke-width="1.3" stroke-linejoin="round"/>
<rect x="390.5" y="259.5" width="293" height="210.4" fill="none" stroke="#6e6e6e" stroke-width="1"/>
<line x1="421.6" y1="469.9" x2="421.6" y2="474.4" stroke="#6e6e6e" stroke-width="1"/>
<text x="421.6" y="485.3" font-size="7.2" text-anchor="middle" class="t">60</text>
<line x1="463.36" y1="469.9" x2="463.36" y2="474.4" stroke="#6e6e6e" stroke-width="1"/>
<text x="463.36" y="485.3" font-size="7.2" text-anchor="middle" class="t">80</text>
<line x1="505.12" y1="469.9" x2="505.12" y2="474.4" stroke="#6e6e6e" stroke-width="1"/>
<text x="505.12" y="485.3" font-size="7.2" text-anchor="middle" class="t">100</text>
<line x1="546.88" y1="469.9" x2="546.88" y2="474.4" stroke="#6e6e6e" stroke-width="1"/>
<text x="546.88" y="485.3" font-size="7.2" text-anchor="middle" class="t">120</text>
<line x1="588.64" y1="469.9" x2="588.64" y2="474.4" stroke="#6e6e6e" stroke-width="1"/>
<text x="588.64" y="485.3" font-size="7.2" text-anchor="middle" class="t">140</text>
<line x1="630.4" y1="469.9" x2="630.4" y2="474.4" stroke="#6e6e6e" stroke-width="1"/>
<text x="630.4" y="485.3" font-size="7.2" text-anchor="middle" class="t">160</text>
<line x1="672.16" y1="469.9" x2="672.16" y2="474.4" stroke="#6e6e6e" stroke-width="1"/>
<text x="672.16" y="485.3" font-size="7.2" text-anchor="middle" class="t">180</text>
<line x1="386" y1="352.4" x2="390.5" y2="352.4" stroke="#6e6e6e" stroke-width="1"/>
<text x="381.1" y="352.4" font-size="7.4" text-anchor="middle" transform="rotate(-90 381.1 352.4)" class="t">1</text>
<line x1="386" y1="319.41" x2="390.5" y2="319.41" stroke="#6e6e6e" stroke-width="1"/>
<text x="381.1" y="319.41" font-size="7.4" text-anchor="middle" transform="rotate(-90 381.1 319.41)" class="t">2</text>
<line x1="386" y1="300.11" x2="390.5" y2="300.11" stroke="#6e6e6e" stroke-width="1"/>
<text x="381.1" y="300.11" font-size="7.4" text-anchor="middle" transform="rotate(-90 381.1 300.11)" class="t">3</text>
<line x1="386" y1="286.41" x2="390.5" y2="286.41" stroke="#6e6e6e" stroke-width="1"/>
<text x="381.1" y="286.41" font-size="7.4" text-anchor="middle" transform="rotate(-90 381.1 286.41)" class="t">4</text>
<text x="365.6" y="364.7" font-size="10.2" text-anchor="middle" transform="rotate(-90 365.6 364.7)">Hazard ratio</text>
<text x="537" y="499.5" text-anchor="middle"><tspan font-size="10.1" dy="0">WHR (%)</tspan></text>
<line x1="398.3" y1="270.6" x2="415.8" y2="270.6" stroke="#3a3ae0" stroke-width="0.8" opacity="0.75"/>
<text x="424.1" y="273.9" font-size="9.35" text-anchor="start" class="l">Linear HR</text>
<line x1="398.3" y1="281.85" x2="415.8" y2="281.85" stroke="#e8313a" stroke-width="0.8" opacity="0.75"/>
<text x="424.1" y="285.15" font-size="9.35" text-anchor="start" class="l">Non-linear HR</text>
<line x1="398.3" y1="293.1" x2="415.8" y2="293.1" stroke="#f2a03c" stroke-width="0.8" opacity="0.75" stroke-dasharray="2.6 2.1"/>
<text x="424.1" y="296.4" font-size="9.35" text-anchor="start" class="l">95% CI of non-linear HR</text>
<path d="M424.3 376.8 L425.76 376.21 L427.22 375.61 L428.69 375.02 L430.15 374.43 L431.61 373.84 L433.07 373.24 L434.54 372.65 L436 372.06 L437.46 371.46 L438.92 370.87 L440.38 370.27 L441.85 369.68 L443.31 369.09 L444.77 368.49 L445 368.4 L446.23 367.9 L447.7 367.31 L449.16 366.71 L450.62 366.12 L452.08 365.53 L453.55 364.93 L455.01 364.34 L456.47 363.74 L457.93 363.15 L459.39 362.55 L460 362.3 L460.86 361.95 L462.32 361.35 L463.78 360.76 L465.24 360.16 L466.71 359.56 L468.17 358.96 L469.63 358.34 L470.2 358.1 L471.09 357.72 L472.55 357.11 L474.02 356.5 L475.48 355.88 L476.94 355.24 L478.4 354.58 L479.87 353.87 L480.4 353.6 L481.33 353.08 L482.79 352.11 L484.25 351.1 L485.72 350.16 L487.18 349.45 L487.6 349.3 L488.64 348.98 L490.1 348.55 L491.56 348.18 L493.03 347.92 L494.49 347.8 L494.7 347.8 L495.95 347.81 L497.41 347.85 L498.88 347.91 L500.34 347.98 L501.8 348.05 L502.9 348.1 L503.26 348.12 L504.72 348.18 L506.19 348.26 L507.65 348.34 L509.11 348.41 L510.57 348.48 L511.1 348.5 L512.04 348.54 L513.5 348.6 L514.96 348.66 L516.42 348.72 L517.88 348.78 L519.35 348.84 L520.81 348.89 L522.27 348.94 L523.73 348.99 L525.2 349.03 L526.66 349.06 L528.12 349.08 L529.58 349.1 L530 349.1 L531.05 349.1 L532.51 349.11 L533.97 349.11 L535.43 349.12 L536.89 349.12 L538.36 349.13 L539.82 349.13 L541.28 349.14 L542.74 349.14 L544.21 349.15 L545.67 349.15 L547.13 349.15 L548.59 349.16 L550.05 349.16 L551.52 349.16 L552.98 349.17 L554.44 349.17 L555.9 349.17 L557.37 349.17 L558.83 349.18 L560.29 349.18 L561.75 349.18 L563.22 349.18 L564.68 349.18 L566.14 349.19 L567.6 349.19 L569.06 349.19 L570.53 349.19 L571.99 349.19 L573.45 349.19 L574.91 349.19 L576.38 349.2 L577.84 349.2 L579.3 349.2 L580.76 349.2 L582.22 349.2 L583.69 349.2 L585.15 349.2 L586.61 349.2 L588.07 349.2 L589.54 349.2 L590 349.2 L591 349.2 L592.46 349.2 L593.92 349.2 L595.38 349.2 L596.85 349.2 L598.31 349.2 L599.77 349.2 L601.23 349.2 L602.7 349.2 L604.16 349.2 L605.62 349.2 L607.08 349.2 L608.55 349.2 L610.01 349.2 L611.47 349.2 L612.93 349.2 L614.39 349.2 L615.86 349.2 L617.32 349.2 L618.78 349.2 L620.24 349.2 L621.71 349.2 L623.17 349.2 L624.63 349.2 L626.09 349.2 L627.55 349.2 L629.02 349.2 L630.48 349.2 L631.94 349.2 L633.4 349.2 L634.87 349.2 L636.33 349.2 L637.79 349.2 L639.25 349.2 L640.72 349.2 L642.18 349.2 L643.64 349.2 L645.1 349.2 L646.56 349.2 L648.03 349.2 L649.49 349.2 L650.95 349.2 L652.41 349.2 L653.88 349.2 L655.34 349.2 L656.8 349.2" fill="none" stroke="#f2a03c" stroke-width="1.3" stroke-dasharray="3.8 2.9"/>
<path d="M424.3 404.4 L425.76 403.1 L427.22 401.8 L428.69 400.49 L430.15 399.19 L431.61 397.89 L433.07 396.59 L434.54 395.29 L436 393.99 L437.46 392.69 L438.92 391.39 L440.38 390.1 L441.85 388.8 L443.31 387.5 L444.77 386.2 L445 386 L446.23 384.9 L447.7 383.61 L449.16 382.31 L450.62 381 L452.08 379.7 L453.55 378.4 L455.01 377.11 L456.47 375.81 L457.93 374.51 L459.39 373.22 L460.86 371.93 L462.32 370.64 L463.78 369.35 L465.1 368.2 L465.24 368.07 L466.71 366.81 L468.17 365.56 L469.63 364.31 L471.09 363.05 L472.55 361.77 L473.3 361.1 L474.02 360.43 L475.48 358.98 L476.94 357.49 L478.4 356.06 L479.87 354.8 L480.4 354.4 L481.33 353.73 L482.79 352.69 L484.25 351.74 L485.72 350.95 L487.18 350.4 L487.6 350.3 L488.64 350.09 L490.1 349.83 L491.56 349.61 L493.03 349.44 L494.49 349.33 L495.8 349.3 L495.95 349.3 L497.41 349.34 L498.88 349.44 L500.34 349.6 L501.8 349.79 L503.26 350.01 L504.72 350.25 L505 350.3 L506.19 350.57 L507.65 351.06 L509.11 351.63 L510.57 352.21 L511.1 352.4 L512.04 352.74 L513.5 353.27 L514.96 353.81 L516.42 354.36 L517.88 354.89 L519.3 355.4 L519.35 355.42 L520.81 355.92 L522.27 356.42 L523.73 356.91 L525.2 357.4 L526.66 357.88 L528.12 358.37 L529.58 358.86 L530 359 L531.05 359.36 L532.51 359.85 L533.97 360.35 L535.43 360.85 L536.89 361.36 L538.36 361.86 L539.82 362.36 L541.28 362.86 L542.74 363.37 L544.21 363.87 L545.67 364.38 L547.13 364.88 L548.59 365.39 L550.05 365.89 L551.52 366.4 L552.98 366.91 L554.44 367.42 L555.9 367.92 L557.37 368.43 L558.83 368.94 L560.29 369.45 L561.75 369.96 L563.22 370.47 L564.68 370.98 L566.14 371.49 L567.6 372 L569.06 372.51 L570.53 373.02 L571.99 373.53 L573.45 374.04 L574.91 374.55 L576.38 375.06 L577.84 375.57 L579.3 376.08 L580.76 376.59 L582.22 377.1 L583.69 377.61 L585.15 378.11 L586.61 378.62 L588.07 379.13 L589.54 379.64 L590 379.8 L591 380.15 L592.46 380.65 L593.92 381.16 L595.38 381.67 L596.85 382.18 L598.31 382.68 L599.77 383.19 L601.23 383.7 L602.7 384.21 L604.16 384.71 L605.62 385.22 L607.08 385.73 L608.55 386.24 L610.01 386.74 L611.47 387.25 L612.93 387.76 L614.39 388.27 L615.86 388.77 L617.32 389.28 L618.78 389.79 L620.24 390.3 L621.71 390.81 L623.17 391.31 L624.63 391.82 L626.09 392.33 L627.55 392.84 L629.02 393.35 L630.48 393.85 L631.94 394.36 L633.4 394.87 L634.87 395.38 L636.33 395.89 L637.79 396.39 L639.25 396.9 L640.72 397.41 L642.18 397.92 L643.64 398.43 L645.1 398.93 L646.56 399.44 L648.03 399.95 L649.49 400.46 L650.95 400.97 L652.41 401.48 L653.88 401.98 L655.34 402.49 L656.8 403" fill="none" stroke="#f2a03c" stroke-width="1.3" stroke-dasharray="3.8 2.9"/>
<path d="M424.3 390.3 L425.76 389.34 L427.22 388.38 L428.69 387.43 L430.15 386.47 L431.61 385.52 L433.07 384.56 L434.54 383.61 L436 382.66 L437.46 381.7 L438.92 380.75 L440.38 379.8 L441.85 378.85 L443.31 377.9 L444.77 376.95 L445 376.8 L446.23 376 L447.7 375.05 L449.16 374.11 L450.62 373.17 L452.08 372.22 L453.55 371.28 L455.01 370.34 L456.47 369.39 L457.93 368.44 L459.39 367.49 L460 367.1 L460.86 366.54 L462.32 365.58 L463.78 364.62 L465.24 363.66 L466.71 362.7 L468.17 361.73 L469.63 360.77 L470.2 360.4 L471.09 359.81 L472.55 358.84 L474.02 357.87 L475.48 356.9 L476.94 355.94 L478.4 355.01 L479.4 354.4 L479.87 354.11 L481.33 353.19 L482.79 352.28 L484.25 351.42 L485.72 350.67 L486.6 350.3 L487.18 350.07 L488.64 349.49 L490.1 349.02 L491.56 348.8 L491.7 348.8 L493.03 348.8 L494.49 348.8 L495.95 348.8 L497.41 348.8 L498.8 348.8 L498.88 348.8 L500.34 348.9 L501.8 349.15 L503.26 349.45 L504.72 349.75 L505 349.8 L506.19 350.01 L507.65 350.28 L509.11 350.56 L510.57 350.84 L512.04 351.11 L513.1 351.3 L513.5 351.37 L514.96 351.61 L516.42 351.84 L517.88 352.07 L519.35 352.29 L520.81 352.51 L522.27 352.72 L523.73 352.94 L525.2 353.16 L526.66 353.38 L528.12 353.6 L529.58 353.83 L530 353.9 L531.05 354.07 L532.51 354.31 L533.97 354.55 L535.43 354.79 L536.89 355.04 L538.36 355.28 L539.82 355.53 L541.28 355.78 L542.74 356.03 L544.21 356.28 L545.67 356.53 L547.13 356.78 L548.59 357.04 L550.05 357.3 L551.52 357.55 L552.98 357.81 L554.44 358.07 L555.9 358.33 L557.37 358.59 L558.83 358.85 L560.29 359.11 L561.75 359.37 L563.22 359.63 L564.68 359.89 L566.14 360.15 L567.6 360.42 L569.06 360.68 L570.53 360.94 L571.99 361.2 L573.45 361.47 L574.91 361.73 L576.38 361.99 L577.84 362.25 L579.3 362.51 L580.76 362.77 L582.22 363.03 L583.69 363.29 L585.15 363.55 L586.61 363.81 L588.07 364.06 L589.54 364.32 L590 364.4 L591 364.57 L592.46 364.83 L593.92 365.08 L595.38 365.34 L596.85 365.59 L598.31 365.85 L599.77 366.1 L601.23 366.36 L602.7 366.61 L604.16 366.87 L605.62 367.12 L607.08 367.38 L608.55 367.63 L610.01 367.88 L611.47 368.14 L612.93 368.39 L614.39 368.65 L615.86 368.9 L617.32 369.16 L618.78 369.41 L620.24 369.66 L621.71 369.92 L623.17 370.17 L624.63 370.43 L626.09 370.68 L627.55 370.93 L629.02 371.19 L630.48 371.44 L631.94 371.69 L633.4 371.95 L634.87 372.2 L636.33 372.45 L637.79 372.71 L639.25 372.96 L640.72 373.22 L642.18 373.47 L643.64 373.72 L645.1 373.98 L646.56 374.23 L648.03 374.48 L649.49 374.73 L650.95 374.99 L652.41 375.24 L653.88 375.49 L655.34 375.75 L656.8 376" fill="none" stroke="#e8313a" stroke-width="1.3" stroke-linejoin="round"/>
<path d="M424.3 362.5 L656.8 328" fill="none" stroke="#3a3ae0" stroke-width="1.3" stroke-linejoin="round"/>
<rect x="35.5" y="518.6" width="293" height="210.6" fill="none" stroke="#6e6e6e" stroke-width="1"/>
<line x1="45.9" y1="729.2" x2="45.9" y2="733.7" stroke="#6e6e6e" stroke-width="1"/>
<text x="45.9" y="744.6" font-size="7.2" text-anchor="middle" class="t">0</text>
<line x1="86.16" y1="729.2" x2="86.16" y2="733.7" stroke="#6e6e6e" stroke-width="1"/>
<text x="86.16" y="744.6" font-size="7.2" text-anchor="middle" class="t">2</text>
<line x1="126.42" y1="729.2" x2="126.42" y2="733.7" stroke="#6e6e6e" stroke-width="1"/>
<text x="126.42" y="744.6" font-size="7.2" text-anchor="middle" class="t">4</text>
<line x1="166.68" y1="729.2" x2="166.68" y2="733.7" stroke="#6e6e6e" stroke-width="1"/>
<text x="166.68" y="744.6" font-size="7.2" text-anchor="middle" class="t">6</text>
<line x1="206.94" y1="729.2" x2="206.94" y2="733.7" stroke="#6e6e6e" stroke-width="1"/>
<text x="206.94" y="744.6" font-size="7.2" text-anchor="middle" class="t">8</text>
<line x1="247.2" y1="729.2" x2="247.2" y2="733.7" stroke="#6e6e6e" stroke-width="1"/>
<text x="247.2" y="744.6" font-size="7.2" text-anchor="middle" class="t">10</text>
<line x1="287.46" y1="729.2" x2="287.46" y2="733.7" stroke="#6e6e6e" stroke-width="1"/>
<text x="287.46" y="744.6" font-size="7.2" text-anchor="middle" class="t">12</text>
<line x1="327.72" y1="729.2" x2="327.72" y2="733.7" stroke="#6e6e6e" stroke-width="1"/>
<text x="327.72" y="744.6" font-size="7.2" text-anchor="middle" class="t">14</text>
<line x1="31" y1="654.2" x2="35.5" y2="654.2" stroke="#6e6e6e" stroke-width="1"/>
<text x="26.1" y="654.2" font-size="7.4" text-anchor="middle" transform="rotate(-90 26.1 654.2)" class="t">1</text>
<line x1="31" y1="615.73" x2="35.5" y2="615.73" stroke="#6e6e6e" stroke-width="1"/>
<text x="26.1" y="615.73" font-size="7.4" text-anchor="middle" transform="rotate(-90 26.1 615.73)" class="t">2</text>
<line x1="31" y1="593.23" x2="35.5" y2="593.23" stroke="#6e6e6e" stroke-width="1"/>
<text x="26.1" y="593.23" font-size="7.4" text-anchor="middle" transform="rotate(-90 26.1 593.23)" class="t">3</text>
<line x1="31" y1="577.26" x2="35.5" y2="577.26" stroke="#6e6e6e" stroke-width="1"/>
<text x="26.1" y="577.26" font-size="7.4" text-anchor="middle" transform="rotate(-90 26.1 577.26)" class="t">4</text>
<line x1="31" y1="564.88" x2="35.5" y2="564.88" stroke="#6e6e6e" stroke-width="1"/>
<text x="26.1" y="564.88" font-size="7.4" text-anchor="middle" transform="rotate(-90 26.1 564.88)" class="t">5</text>
<line x1="31" y1="554.76" x2="35.5" y2="554.76" stroke="#6e6e6e" stroke-width="1"/>
<text x="26.1" y="554.76" font-size="7.4" text-anchor="middle" transform="rotate(-90 26.1 554.76)" class="t">6</text>
<text x="10.6" y="623.9" font-size="10.2" text-anchor="middle" transform="rotate(-90 10.6 623.9)">Hazard ratio</text>
<text x="182" y="759.8" text-anchor="middle"><tspan font-size="10.1" dy="0">BRI</tspan></text>
<line x1="43.3" y1="529.7" x2="60.8" y2="529.7" stroke="#3a3ae0" stroke-width="0.8" opacity="0.75"/>
<text x="69.1" y="533" font-size="9.35" text-anchor="start" class="l">Linear HR</text>
<line x1="43.3" y1="540.95" x2="60.8" y2="540.95" stroke="#e8313a" stroke-width="0.8" opacity="0.75"/>
<text x="69.1" y="544.25" font-size="9.35" text-anchor="start" class="l">Non-linear HR</text>
<line x1="43.3" y1="552.2" x2="60.8" y2="552.2" stroke="#f2a03c" stroke-width="0.8" opacity="0.75" stroke-dasharray="2.6 2.1"/>
<text x="69.1" y="555.5" font-size="9.35" text-anchor="start" class="l">95% CI of non-linear HR</text>
<path d="M85.69 630.01 L84.19 629.08 L82.69 628.16 L81.19 627.23 L80 626.5 L79.69 626.31 L78.19 625.39 L76.69 624.47 L75.19 623.55 L73.69 622.64 L72.2 621.72 L70.7 620.8 L69.2 619.88 L67.7 618.96 L66.2 618.05 L64.7 617.13 L63.2 616.22 L61.7 615.3" fill="none" stroke="#f2a03c" stroke-width="1.3" stroke-dasharray="3.8 2.9"/>
<path d="M87.19 630.94 L88.69 631.87 L90.19 632.79 L91.69 633.72 L93.19 634.65 L94.69 635.57 L96.19 636.49 L97.68 637.4 L99.18 638.31 L100 638.8 L100.68 639.22 L102.18 640.15 L103.68 641.1 L105.18 642.07 L106.68 643.05 L108.18 644.04 L109.68 645.02 L111.18 645.99 L112.68 646.95 L114.18 647.88 L115.68 648.79 L117.18 649.65 L118.68 650.48 L120.18 651.25 L121.67 651.97 L123.17 652.63 L124.1 653 L124.67 653.22 L126.17 653.79 L127.67 654.34 L129.17 654.86 L130.67 655.35 L132.17 655.78 L133.67 656.16 L135.17 656.46 L136 656.6 L136.67 656.7 L138.17 656.92 L139.67 657.13 L141.17 657.32 L142.67 657.49 L144.17 657.63 L145.66 657.73 L147.16 657.79 L148.2 657.8 L148.66 657.8 L150.16 657.75 L151.66 657.65 L153.16 657.51 L154.66 657.34 L156.16 657.15 L157.66 656.94 L159.16 656.72 L160 656.6 L160.66 656.5 L162.16 656.24 L163.66 655.92 L165.16 655.58 L166.66 655.2 L168.16 654.8 L169.65 654.39 L171.15 653.99 L172.65 653.59 L173 653.5 L174.15 653.2 L175.65 652.81 L177.15 652.41 L178.65 652 L180.15 651.59 L181.65 651.17 L183.15 650.75 L184.65 650.32 L186.15 649.89 L187.65 649.46 L189.15 649.02 L190.65 648.58 L192.15 648.14 L193.64 647.69 L195.14 647.25 L196.64 646.8 L198.14 646.35 L199.64 645.91 L200 645.8 L201.14 645.46 L202.64 645.01 L204.14 644.55 L205.64 644.1 L207.14 643.64 L208.64 643.17 L210.14 642.71 L211.64 642.24" fill="none" stroke="#f2a03c" stroke-width="1.3" stroke-linejoin="round"/>
<path d="M213.14 641.77 L214.64 641.3 L216.14 640.83 L217.63 640.35 L219.13 639.88 L220.63 639.4 L222.13 638.92 L223.63 638.44 L225.13 637.96 L226.63 637.48 L228.13 637 L229.63 636.51 L231.13 636.03 L232.63 635.55 L234.13 635.07 L235.63 634.58 L237.13 634.1 L238.63 633.62 L240.13 633.14 L241.62 632.66 L243.12 632.18 L244.62 631.7 L246.12 631.23 L247.62 630.75 L249.12 630.28 L250 630 L250.62 629.8 L252.12 629.33 L253.62 628.86 L255.12 628.39 L256.62 627.92 L258.12 627.45 L259.62 626.98 L261.12 626.51 L262.62 626.03 L264.12 625.56 L265.61 625.09 L267.11 624.62 L268.61 624.15 L270.11 623.68 L271.61 623.21 L273.11 622.74 L274.61 622.27 L276.11 621.8 L277.61 621.33 L279.11 620.86 L280.61 620.39 L282.11 619.92 L283.61 619.45 L285.11 618.98 L286.61 618.52 L288.11 618.05 L289.6 617.58 L291.1 617.11 L292.6 616.64 L294.1 616.17 L295.6 615.7 L297.1 615.24 L298.6 614.77 L300.1 614.3" fill="none" stroke="#f2a03c" stroke-width="1.3" stroke-dasharray="3.8 2.9"/>
<path d="M87.19 642.67 L85.69 642.17 L84.19 641.68 L82.69 641.18 L81.19 640.69 L80 640.3 L79.69 640.2 L78.19 639.71 L76.69 639.22 L75.19 638.73 L73.69 638.24 L72.2 637.75 L70.7 637.26 L69.2 636.76 L67.7 636.27 L66.2 635.78 L64.7 635.29 L63.2 634.79 L61.7 634.3" fill="none" stroke="#f2a03c" stroke-width="1.3" stroke-dasharray="3.8 2.9"/>
<path d="M88.69 643.17 L90.19 643.66 L91.69 644.15 L93.19 644.64 L94.69 645.13 L96.19 645.61 L97.68 646.08 L99.18 646.55 L100 646.8 L100.68 647.01 L102.18 647.45 L103.68 647.89 L105.18 648.31 L106.68 648.72 L108.18 649.13 L109.68 649.53 L111.18 649.93 L112.68 650.34 L114.18 650.75 L115.68 651.17 L117.18 651.6 L118.68 652.04 L120.18 652.5 L121.67 652.98 L123.17 653.48 L124.1 653.8 L124.67 654.01 L126.17 654.63 L127.67 655.32 L129.17 656.04 L130.67 656.77 L132.17 657.46 L133.67 658.07 L135.17 658.58 L136 658.8 L136.67 658.96 L138.17 659.31 L139.67 659.66 L141.17 659.98 L142.67 660.26 L144.17 660.5 L145.66 660.68 L147.16 660.78 L148.2 660.8 L148.66 660.8 L150.16 660.76 L151.66 660.68 L153.16 660.56 L154.66 660.41 L156.16 660.25 L157.66 660.08 L159.16 659.9 L160 659.8 L160.66 659.72 L162.16 659.5 L163.66 659.24 L165.16 658.96 L166.66 658.65 L168.16 658.34 L169.65 658.03 L171.15 657.73 L172.65 657.46 L173 657.4 L174.15 657.21 L175.65 656.96 L177.15 656.72 L178.65 656.49 L180.15 656.25 L181.65 656.02 L183.15 655.8 L184.65 655.57 L186.15 655.35 L187.65 655.13 L189.15 654.91 L190.65 654.7 L192.15 654.49 L193.64 654.28 L195.14 654.07 L196.64 653.86 L198.14 653.65 L199.64 653.45 L200 653.4 L201.14 653.25 L202.64 653.04 L204.14 652.84 L205.64 652.65 L207.14 652.45" fill="none" stroke="#f2a03c" stroke-width="1.3" stroke-linejoin="round"/>
<path d="M208.64 652.26 L210.14 652.07 L211.64 651.88 L213.14 651.69 L214.64 651.5 L216.14 651.31 L217.63 651.13 L219.13 650.94 L220.63 650.76 L222.13 650.58 L223.63 650.39 L225.13 650.21 L226.63 650.03 L228.13 649.85 L229.63 649.67 L231.13 649.49 L232.63 649.31 L234.13 649.13 L235.63 648.95 L237.13 648.77 L238.63 648.59 L240.13 648.41 L241.62 648.23 L243.12 648.05 L244.62 647.86 L246.12 647.68 L247.62 647.5 L249.12 647.31 L250 647.2 L250.62 647.12 L252.12 646.94 L253.62 646.75 L255.12 646.56 L256.62 646.37 L258.12 646.19 L259.62 646 L261.12 645.81 L262.62 645.62 L264.12 645.43 L265.61 645.25 L267.11 645.06 L268.61 644.87 L270.11 644.68 L271.61 644.49 L273.11 644.3 L274.61 644.12 L276.11 643.93 L277.61 643.74 L279.11 643.55 L280.61 643.36 L282.11 643.17 L283.61 642.98 L285.11 642.79 L286.61 642.61 L288.11 642.42 L289.6 642.23 L291.1 642.04 L292.6 641.85 L294.1 641.66 L295.6 641.47 L297.1 641.28 L298.6 641.09 L300.1 640.9" fill="none" stroke="#f2a03c" stroke-width="1.3" stroke-dasharray="3.8 2.9"/>
<path d="M61.7 625.1 L63.2 625.77 L64.7 626.44 L66.2 627.1 L67.7 627.77 L69.2 628.44 L70.7 629.12 L72.2 629.79 L73.69 630.46 L75.19 631.13 L76.69 631.81 L78.19 632.48 L79.69 633.16 L80 633.3 L81.19 633.84 L82.69 634.52 L84.19 635.2 L85.69 635.88 L87.19 636.56 L88.69 637.24 L90.19 637.93 L91.69 638.61 L93.19 639.29 L94.69 639.98 L96.19 640.66 L97.68 641.34 L99.18 642.03 L100 642.4 L100.68 642.71 L102.18 643.41 L103.68 644.11 L105.18 644.82 L106.68 645.54 L108.18 646.26 L109.68 646.98 L111.18 647.69 L112.68 648.41 L114.18 649.11 L115.68 649.8 L117.18 650.48 L118.68 651.15 L120.18 651.8 L121.67 652.43 L123.17 653.04 L124.1 653.4 L124.67 653.62 L126.17 654.22 L127.67 654.81 L129.17 655.4 L130.67 655.96 L132.17 656.47 L133.67 656.93 L135.17 657.32 L136 657.5 L136.67 657.63 L138.17 657.93 L139.67 658.23 L141.17 658.5 L142.67 658.74 L144.17 658.94 L145.66 659.09 L147.16 659.18 L148.2 659.2 L148.66 659.2 L150.16 659.16 L151.66 659.08 L153.16 658.96 L154.66 658.82 L156.16 658.66 L157.66 658.48 L159.16 658.3 L160 658.2 L160.66 658.12 L162.16 657.89 L163.66 657.61 L165.16 657.3 L166.66 656.96 L168.16 656.61 L169.65 656.26 L171.15 655.91 L172.65 655.57 L173 655.5 L174.15 655.26 L175.65 654.94 L177.15 654.62 L178.65 654.3 L180.15 653.99 L181.65 653.67 L183.15 653.35 L184.65 653.03 L186.15 652.71 L187.65 652.38 L189.15 652.06 L190.65 651.74 L192.15 651.41 L193.64 651.09 L195.14 650.76 L196.64 650.44 L198.14 650.11 L199.64 649.78 L200 649.7 L201.14 649.45 L202.64 649.12 L204.14 648.79 L205.64 648.45 L207.14 648.12 L208.64 647.78 L210.14 647.45 L211.64 647.11 L213.14 646.77 L214.64 646.43 L216.14 646.1 L217.63 645.76 L219.13 645.42 L220.63 645.08 L222.13 644.73 L223.63 644.39 L225.13 644.05 L226.63 643.71 L228.13 643.37 L229.63 643.03 L231.13 642.68 L232.63 642.34 L234.13 642 L235.63 641.66 L237.13 641.32 L238.63 640.97 L240.13 640.63 L241.62 640.29 L243.12 639.95 L244.62 639.61 L246.12 639.27 L247.62 638.94 L249.12 638.6 L250 638.4 L250.62 638.26 L252.12 637.92 L253.62 637.59 L255.12 637.25 L256.62 636.91 L258.12 636.58 L259.62 636.24 L261.12 635.9 L262.62 635.57 L264.12 635.23 L265.61 634.9 L267.11 634.56 L268.61 634.22 L270.11 633.89 L271.61 633.55 L273.11 633.22 L274.61 632.88 L276.11 632.55 L277.61 632.21 L279.11 631.88 L280.61 631.54 L282.11 631.21 L283.61 630.87 L285.11 630.54 L286.61 630.2 L288.11 629.87 L289.6 629.54 L291.1 629.2 L292.6 628.87 L294.1 628.53 L295.6 628.2 L297.1 627.87 L298.6 627.53 L300.1 627.2" fill="none" stroke="#e8313a" stroke-width="1.3" stroke-linejoin="round"/>
<path d="M61.7 651.1 L300.1 660.3" fill="none" stroke="#3a3ae0" stroke-width="1.3" stroke-linejoin="round"/>
<rect x="391" y="518" width="292.7" height="210.5" fill="none" stroke="#6e6e6e" stroke-width="1"/>
<line x1="450.1" y1="728.5" x2="450.1" y2="733" stroke="#6e6e6e" stroke-width="1"/>
<text x="450.1" y="743.9" font-size="7.2" text-anchor="middle" class="t">0.06</text>
<line x1="514.64" y1="728.5" x2="514.64" y2="733" stroke="#6e6e6e" stroke-width="1"/>
<text x="514.64" y="743.9" font-size="7.2" text-anchor="middle" class="t">0.08</text>
<line x1="579.18" y1="728.5" x2="579.18" y2="733" stroke="#6e6e6e" stroke-width="1"/>
<text x="579.18" y="743.9" font-size="7.2" text-anchor="middle" class="t">0.10</text>
<line x1="643.72" y1="728.5" x2="643.72" y2="733" stroke="#6e6e6e" stroke-width="1"/>
<text x="643.72" y="743.9" font-size="7.2" text-anchor="middle" class="t">0.12</text>
<line x1="386.5" y1="653.2" x2="391" y2="653.2" stroke="#6e6e6e" stroke-width="1"/>
<text x="381.6" y="653.2" font-size="7.4" text-anchor="middle" transform="rotate(-90 381.6 653.2)" class="t">1</text>
<line x1="386.5" y1="614.8" x2="391" y2="614.8" stroke="#6e6e6e" stroke-width="1"/>
<text x="381.6" y="614.8" font-size="7.4" text-anchor="middle" transform="rotate(-90 381.6 614.8)" class="t">2</text>
<line x1="386.5" y1="592.34" x2="391" y2="592.34" stroke="#6e6e6e" stroke-width="1"/>
<text x="381.6" y="592.34" font-size="7.4" text-anchor="middle" transform="rotate(-90 381.6 592.34)" class="t">3</text>
<line x1="386.5" y1="576.4" x2="391" y2="576.4" stroke="#6e6e6e" stroke-width="1"/>
<text x="381.6" y="576.4" font-size="7.4" text-anchor="middle" transform="rotate(-90 381.6 576.4)" class="t">4</text>
<line x1="386.5" y1="564.04" x2="391" y2="564.04" stroke="#6e6e6e" stroke-width="1"/>
<text x="381.6" y="564.04" font-size="7.4" text-anchor="middle" transform="rotate(-90 381.6 564.04)" class="t">5</text>
<line x1="386.5" y1="553.94" x2="391" y2="553.94" stroke="#6e6e6e" stroke-width="1"/>
<text x="381.6" y="553.94" font-size="7.4" text-anchor="middle" transform="rotate(-90 381.6 553.94)" class="t">6</text>
<text x="366.1" y="623.25" font-size="10.2" text-anchor="middle" transform="rotate(-90 366.1 623.25)">Hazard ratio</text>
<text x="537.35" y="757.2" text-anchor="middle"><tspan font-size="10.1" dy="0">ABSI </tspan><tspan font-size="12.2" dy="0.6" dx="0.7">(</tspan><tspan font-size="10.1" dy="-0.6">m</tspan><tspan font-size="7.1" dy="-4.2">11/6</tspan><tspan font-size="10.1" dy="4.2"> · kg</tspan><tspan font-size="7.1" dy="-4.2">−2/3</tspan><tspan font-size="12.2" dy="4.8" dx="0.7">)</tspan></text>
<line x1="398.8" y1="529.1" x2="416.3" y2="529.1" stroke="#3a3ae0" stroke-width="0.8" opacity="0.75"/>
<text x="424.6" y="532.4" font-size="9.35" text-anchor="start" class="l">Linear HR</text>
<line x1="398.8" y1="540.35" x2="416.3" y2="540.35" stroke="#e8313a" stroke-width="0.8" opacity="0.75"/>
<text x="424.6" y="543.65" font-size="9.35" text-anchor="start" class="l">Non-linear HR</text>
<line x1="398.8" y1="551.6" x2="416.3" y2="551.6" stroke="#f2a03c" stroke-width="0.8" opacity="0.75" stroke-dasharray="2.6 2.1"/>
<text x="424.6" y="554.9" font-size="9.35" text-anchor="start" class="l">95% CI of non-linear HR</text>
<path d="M471.93 658.4 L470.41 658.41 L468.89 658.42 L467.38 658.44 L465.86 658.45 L464.34 658.46 L462.83 658.47 L461.31 658.49 L460 658.5 L459.79 658.5 L458.28 658.52 L456.76 658.53 L455.24 658.55 L453.72 658.56 L452.21 658.57 L450.69 658.59 L449.17 658.6 L447.66 658.62 L446.14 658.63 L444.62 658.64 L443.11 658.66 L441.59 658.67 L440.07 658.69 L438.55 658.7 L437.04 658.71 L435.52 658.73 L434 658.74 L432.49 658.75 L430.97 658.77 L429.45 658.78 L427.94 658.79 L426.42 658.81 L424.9 658.82 L423.38 658.83 L421.87 658.85 L420.35 658.86 L418.83 658.87 L417.32 658.89 L415.8 658.9" fill="none" stroke="#f2a03c" stroke-width="1.3" stroke-dasharray="3.8 2.9"/>
<path d="M473.45 658.39 L474.96 658.37 L476.48 658.36 L478 658.35 L479.51 658.33 L481.03 658.32 L482.55 658.3 L484.06 658.28 L485.58 658.26 L487.1 658.24 L488.62 658.22 L490 658.2 L490.13 658.2 L491.65 658.17 L493.17 658.15 L494.68 658.12 L496.2 658.08 L497.72 658.04 L499.23 658 L500.75 657.95 L502.27 657.9 L503.78 657.84 L505.3 657.77 L506.82 657.69 L508.34 657.61 L508.5 657.6 L509.85 657.48 L511.37 657.26 L512.89 656.95 L514.4 656.58 L515.92 656.16 L517.44 655.7 L518.95 655.21 L520.47 654.71 L521.99 654.2 L522.6 654 L523.51 653.69 L525.02 653.13 L526.54 652.52 L528.06 651.86 L529.57 651.17 L531.09 650.45 L532.61 649.7 L534.12 648.94 L535 648.5 L535.64 648.17 L537.16 647.38 L538.68 646.57 L540.19 645.73 L541.71 644.86 L543.23 643.98 L544.74 643.08 L546.26 642.16 L547.78 641.22 L549.29 640.27 L550.81 639.3 L552.33 638.33 L553.85 637.34 L555.36 636.34 L556.88 635.33 L558.4 634.32 L559.91 633.3 L561.43 632.28 L562.95 631.25 L564.46 630.23 L565.98 629.2 L567.5 628.18 L569.02 627.16 L570.53 626.15 L572.05 625.14 L573.57 624.14 L575.08 623.15 L576.6 622.17 L578.12 621.21 L578.6 620.9" fill="none" stroke="#f2a03c" stroke-width="1.3" stroke-linejoin="round"/>
<path d="M579.63 620.25 L581.15 619.29 L582.67 618.33 L584.18 617.38 L585.7 616.42 L587.22 615.46 L588.74 614.5 L590.25 613.55 L591.77 612.59 L593.29 611.63 L594.8 610.67 L596.32 609.72 L597.84 608.76 L599.35 607.81 L600.87 606.85 L602.39 605.9 L603.91 604.94 L605.42 603.99 L606.94 603.04 L608.46 602.09 L609.97 601.14 L611.49 600.19 L613.01 599.25 L614.52 598.3 L616.04 597.36 L617.56 596.41 L619.08 595.47 L620 594.9 L620.59 594.53 L622.11 593.6 L623.63 592.66 L625.14 591.72 L626.66 590.79 L628.18 589.85 L629.69 588.92 L631.21 587.99 L632.73 587.06 L634.25 586.13 L635.76 585.2 L637.28 584.27 L638.8 583.34 L640.31 582.42 L641.83 581.49 L643.35 580.57 L644.86 579.65 L646.38 578.72 L647.9 577.8 L649.42 576.88 L650.93 575.96 L652.45 575.05 L653.97 574.13 L655.48 573.21 L657 572.3" fill="none" stroke="#f2a03c" stroke-width="1.3" stroke-dasharray="3.8 2.9"/>
<path d="M471.93 674.88 L470.41 675.53 L470 675.7 L468.89 676.17 L467.38 676.81 L465.86 677.45 L464.34 678.08 L462.83 678.72 L461.31 679.36 L459.79 679.99 L458.28 680.63 L456.76 681.26 L455.24 681.89 L453.72 682.52 L452.21 683.15 L450.69 683.78 L449.17 684.41 L447.66 685.04 L446.14 685.67 L444.62 686.29 L443.11 686.92 L441.59 687.55 L440.07 688.17 L440 688.2 L438.55 688.79 L437.04 689.42 L435.52 690.04 L434 690.66 L432.49 691.28 L430.97 691.91 L429.45 692.53 L427.94 693.15 L426.42 693.77 L424.9 694.39 L423.38 695.01 L421.87 695.62 L420.35 696.24 L418.83 696.86 L417.32 697.48 L415.8 698.1" fill="none" stroke="#f2a03c" stroke-width="1.3" stroke-dasharray="3.8 2.9"/>
<path d="M473.45 674.24 L474.96 673.6 L476.48 672.95 L478 672.31 L479.51 671.67 L481.03 671.03 L482.55 670.39 L484.06 669.75 L485.58 669.11 L487.1 668.47 L488.62 667.83 L490.13 667.2 L491.65 666.57 L493.17 665.94 L494.68 665.32 L496.2 664.7 L497.72 664.08 L499.23 663.47 L500.75 662.86 L502.27 662.26 L503.78 661.66 L505.3 661.06 L506.82 660.47 L508.34 659.89 L509.85 659.31 L511.37 658.74 L512 658.5 L512.89 658.17 L514.4 657.61 L515.92 657.06 L517.44 656.51 L518.95 655.97 L520.47 655.43 L521.99 654.9 L523.51 654.37 L525.02 653.85 L526.54 653.33 L528.06 652.81 L529.57 652.3 L531.09 651.79 L532.61 651.29 L534.12 650.79 L535 650.5 L535.64 650.29 L537.16 649.79 L538.68 649.3 L540.19 648.81 L541.71 648.31 L543.23 647.83 L544.74 647.34 L546.26 646.85 L547.78 646.36 L549.29 645.88 L550.81 645.39 L552.33 644.91 L553.85 644.42 L555.36 643.94 L556.88 643.45 L558.4 642.97 L559.91 642.48 L561.43 641.99 L562.95 641.5 L564.46 641.01 L565.98 640.52 L567.5 640.02 L569.02 639.53 L570.53 639.03 L572.05 638.52 L573.57 638.02 L575.08 637.51 L576.6 637 L578.12 636.48" fill="none" stroke="#f2a03c" stroke-width="1.3" stroke-linejoin="round"/>
<path d="M579.63 635.96 L581.15 635.44 L582.67 634.91 L584.18 634.38 L585.7 633.85 L587.22 633.31 L588.74 632.76 L590 632.3 L590.25 632.21 L591.77 631.65 L593.29 631.09 L594.8 630.52 L596.32 629.95 L597.84 629.37 L599.35 628.79 L600.87 628.2 L602.39 627.61 L603.91 627.01 L605.42 626.41 L606.94 625.81 L608.46 625.2 L609.97 624.59 L611.49 623.97 L613.01 623.35 L614.52 622.73 L616.04 622.1 L617.56 621.47 L619.08 620.83 L620.59 620.2 L622.11 619.56 L623.63 618.91 L625.14 618.27 L626.66 617.62 L628.18 616.97 L629.69 616.32 L631.21 615.66 L632.73 615 L634.25 614.34 L635.76 613.68 L637.28 613.02 L638.8 612.36 L640.31 611.69 L641.83 611.02 L643.35 610.35 L644.86 609.68 L646.38 609.01 L647.9 608.34 L649.42 607.67 L650.93 607 L652.45 606.32 L653.97 605.65 L655.48 604.97 L657 604.3" fill="none" stroke="#f2a03c" stroke-width="1.3" stroke-dasharray="3.8 2.9"/>
<path d="M415.8 678.3 L417.32 677.98 L418.83 677.67 L420.35 677.35 L421.87 677.03 L423.38 676.72 L424.9 676.4 L426.42 676.08 L427.94 675.77 L429.45 675.45 L430.97 675.14 L432.49 674.82 L434 674.5 L435.52 674.19 L437.04 673.87 L438.55 673.55 L440.07 673.24 L441.59 672.92 L443.11 672.6 L444.62 672.29 L446.14 671.97 L447.66 671.66 L449.17 671.34 L450.69 671.02 L452.21 670.71 L453.72 670.39 L455.24 670.07 L456.76 669.76 L458.28 669.44 L459.79 669.13 L461.31 668.81 L462.83 668.49 L464.34 668.18 L465.86 667.86 L467.38 667.55 L468.89 667.23 L470 667 L470.41 666.91 L471.93 666.6 L473.45 666.28 L474.96 665.97 L476.48 665.65 L478 665.33 L479.51 665.01 L481.03 664.68 L482.55 664.36 L484.06 664.03 L485.58 663.7 L487.1 663.36 L488.62 663.03 L490.13 662.68 L491.65 662.34 L493.17 661.99 L494.68 661.63 L496.2 661.27 L497.72 660.9 L499.23 660.53 L500.75 660.15 L502.27 659.76 L503.78 659.37 L505.3 658.97 L506.82 658.56 L508.34 658.14 L509.85 657.72 L511.37 657.28 L512 657.1 L512.89 656.84 L514.4 656.39 L515.92 655.93 L517.44 655.46 L518.95 654.98 L520.47 654.49 L521.99 653.99 L523.51 653.48 L525.02 652.96 L526.54 652.43 L528.06 651.89 L529.57 651.35 L531.09 650.79 L532.61 650.22 L534.12 649.64 L535 649.3 L535.64 649.05 L537.16 648.45 L538.68 647.84 L540.19 647.22 L541.71 646.59 L543.23 645.95 L544.74 645.3 L546.26 644.64 L547.78 643.98 L549.29 643.31 L550.81 642.62 L552.33 641.94 L553.85 641.24 L555.36 640.54 L556.88 639.83 L558.4 639.11 L559.91 638.39 L561.43 637.66 L562.95 636.92 L564.46 636.19 L565.98 635.44 L567.5 634.69 L569.02 633.94 L570.53 633.18 L572.05 632.42 L573.57 631.65 L575.08 630.88 L576.6 630.11 L578.12 629.34 L579.63 628.56 L581.15 627.78 L582.67 627 L584.18 626.21 L585.7 625.43 L587.22 624.64 L588.74 623.86 L590 623.2 L590.25 623.07 L591.77 622.28 L593.29 621.49 L594.8 620.7 L596.32 619.92 L597.84 619.13 L599.35 618.34 L600.87 617.55 L602.39 616.76 L603.91 615.97 L605.42 615.18 L606.94 614.39 L608.46 613.6 L609.97 612.8 L611.49 612.01 L613.01 611.22 L614.52 610.43 L616.04 609.64 L617.56 608.85 L619.08 608.05 L620.59 607.26 L622.11 606.47 L623.63 605.67 L625.14 604.88 L626.66 604.09 L628.18 603.29 L629.69 602.5 L631.21 601.71 L632.73 600.91 L634.25 600.12 L635.76 599.33 L637.28 598.53 L638.8 597.74 L640.31 596.94 L641.83 596.15 L643.35 595.35 L644.86 594.56 L646.38 593.76 L647.9 592.97 L649.42 592.17 L650.93 591.38 L652.45 590.58 L653.97 589.79 L655.48 588.99 L657 588.2" fill="none" stroke="#e8313a" stroke-width="1.3" stroke-linejoin="round"/>
<path d="M415.8 696.1 L657 599.4" fill="none" stroke="#3a3ae0" stroke-width="1.3" stroke-linejoin="round"/>
<rect x="34" y="775.5" width="293" height="210.5" fill="none" stroke="#6e6e6e" stroke-width="1"/>
<line x1="71.6" y1="986" x2="71.6" y2="990.5" stroke="#6e6e6e" stroke-width="1"/>
<text x="71.6" y="1001.4" font-size="7.2" text-anchor="middle" class="t">2</text>
<line x1="125.85" y1="986" x2="125.85" y2="990.5" stroke="#6e6e6e" stroke-width="1"/>
<text x="125.85" y="1001.4" font-size="7.2" text-anchor="middle" class="t">3</text>
<line x1="180.1" y1="986" x2="180.1" y2="990.5" stroke="#6e6e6e" stroke-width="1"/>
<text x="180.1" y="1001.4" font-size="7.2" text-anchor="middle" class="t">4</text>
<line x1="234.35" y1="986" x2="234.35" y2="990.5" stroke="#6e6e6e" stroke-width="1"/>
<text x="234.35" y="1001.4" font-size="7.2" text-anchor="middle" class="t">5</text>
<line x1="288.6" y1="986" x2="288.6" y2="990.5" stroke="#6e6e6e" stroke-width="1"/>
<text x="288.6" y="1001.4" font-size="7.2" text-anchor="middle" class="t">6</text>
<line x1="29.5" y1="903.6" x2="34" y2="903.6" stroke="#6e6e6e" stroke-width="1"/>
<text x="24.6" y="903.6" font-size="7.4" text-anchor="middle" transform="rotate(-90 24.6 903.6)" class="t">1</text>
<line x1="29.5" y1="860.76" x2="34" y2="860.76" stroke="#6e6e6e" stroke-width="1"/>
<text x="24.6" y="860.76" font-size="7.4" text-anchor="middle" transform="rotate(-90 24.6 860.76)" class="t">2</text>
<line x1="29.5" y1="835.71" x2="34" y2="835.71" stroke="#6e6e6e" stroke-width="1"/>
<text x="24.6" y="835.71" font-size="7.4" text-anchor="middle" transform="rotate(-90 24.6 835.71)" class="t">3</text>
<line x1="29.5" y1="817.93" x2="34" y2="817.93" stroke="#6e6e6e" stroke-width="1"/>
<text x="24.6" y="817.93" font-size="7.4" text-anchor="middle" transform="rotate(-90 24.6 817.93)" class="t">4</text>
<line x1="29.5" y1="804.14" x2="34" y2="804.14" stroke="#6e6e6e" stroke-width="1"/>
<text x="24.6" y="804.14" font-size="7.4" text-anchor="middle" transform="rotate(-90 24.6 804.14)" class="t">5</text>
<line x1="29.5" y1="792.87" x2="34" y2="792.87" stroke="#6e6e6e" stroke-width="1"/>
<text x="24.6" y="792.87" font-size="7.4" text-anchor="middle" transform="rotate(-90 24.6 792.87)" class="t">6</text>
<text x="9.1" y="880.75" font-size="10.2" text-anchor="middle" transform="rotate(-90 9.1 880.75)">Hazard ratio</text>
<text x="180.5" y="1014.8" text-anchor="middle"><tspan font-size="10.1" dy="0">Waist-to-BMI </tspan><tspan font-size="12.2" dy="0.6" dx="0.7">(</tspan><tspan font-size="10.1" dy="-0.6">cm · m</tspan><tspan font-size="7.1" dy="-4.0">2</tspan><tspan font-size="10.1" dy="4.0">/kg</tspan><tspan font-size="12.2" dy="0.6" dx="0.7">)</tspan></text>
<line x1="41.8" y1="786.6" x2="59.3" y2="786.6" stroke="#3a3ae0" stroke-width="0.8" opacity="0.75"/>
<text x="67.6" y="789.9" font-size="9.35" text-anchor="start" class="l">Linear HR</text>
<line x1="41.8" y1="797.85" x2="59.3" y2="797.85" stroke="#e8313a" stroke-width="0.8" opacity="0.75"/>
<text x="67.6" y="801.15" font-size="9.35" text-anchor="start" class="l">Non-linear HR</text>
<line x1="41.8" y1="809.1" x2="59.3" y2="809.1" stroke="#f2a03c" stroke-width="0.8" opacity="0.75" stroke-dasharray="2.6 2.1"/>
<text x="67.6" y="812.4" font-size="9.35" text-anchor="start" class="l">95% CI of non-linear HR</text>
<path d="M104.85 909.29 L103.56 909.23 L102.26 909.18 L100.97 909.14 L100 909.1 L99.67 909.09 L98.38 909.04 L97.08 908.99 L95.79 908.94 L94.49 908.89 L93.2 908.84 L91.9 908.79 L90.61 908.73 L89.31 908.68 L88.02 908.62 L86.72 908.56 L85.43 908.5 L84.13 908.45 L82.84 908.39 L81.54 908.32 L80.25 908.26 L78.95 908.2 L77.66 908.14 L76.36 908.07 L75.07 908.01 L73.77 907.94 L72.48 907.87 L71.18 907.81 L69.89 907.74 L68.59 907.67 L67.3 907.6" fill="none" stroke="#f2a03c" stroke-width="1.3" stroke-dasharray="3.8 2.9"/>
<path d="M106.15 909.34 L107.44 909.39 L108.74 909.44 L110.03 909.5 L111.33 909.55 L112.62 909.6 L113.92 909.65 L115.21 909.69 L116.51 909.74 L117.8 909.78 L119.1 909.82 L120.39 909.86 L121.69 909.89 L122.98 909.92 L124.28 909.95 L125.57 909.97 L126.87 909.98 L128.16 909.99 L129.46 910 L130 910 L130.75 910 L132.05 910 L133.34 909.99 L134.64 909.98 L135.93 909.97 L137.23 909.95 L138.52 909.93 L139.82 909.91 L141.11 909.89 L142.41 909.86 L143.7 909.83 L144.7 909.8 L145 909.79 L146.29 909.6 L147.59 909.24 L148.88 908.73 L150.18 908.1 L151.47 907.39 L152.77 906.63 L154.06 905.84 L155.36 905.07 L156.65 904.33 L156.9 904.2 L157.95 903.63 L159.24 902.91 L160.54 902.15 L161.83 901.37 L163.13 900.55 L164.42 899.71 L165.72 898.85 L167.01 897.95 L167.8 897.4 L168.31 897.03 L169.6 896.04 L170.9 895 L172.19 893.92 L173.49 892.83 L174.78 891.76 L175.1 891.5 L176.08 890.71 L177.37 889.67 L178.67 888.63 L179.96 887.58 L181.26 886.54 L182.55 885.49 L183.85 884.44 L185 883.5 L185.14 883.38 L186.44 882.33 L187.73 881.27 L189.03 880.22 L190.32 879.17 L191.62 878.12 L192.91 877.06 L194.21 875.99 L195.5 874.9 L196.8 873.8 L198.09 872.69 L199.39 871.55 L200 871 L200.68 870.38 L201.98 869.18 L203.27 867.95 L204.57 866.7 L205.86 865.43 L207.16 864.15 L208.45 862.86 L209.75 861.57 L211.04 860.28 L212.34 859.01 L213.63 857.76 L213.9 857.5" fill="none" stroke="#f2a03c" stroke-width="1.3" stroke-linejoin="round"/>
<path d="M214.93 856.52 L216.22 855.29 L217.52 854.06 L218.81 852.84 L220.11 851.62 L221.4 850.41 L222.7 849.19 L223.99 847.98 L225.29 846.77 L226.58 845.57 L227.88 844.36 L229.17 843.15 L230.47 841.95 L231.76 840.74 L233.06 839.53 L234.35 838.32 L235.65 837.1 L236.94 835.89 L238.24 834.67 L239.53 833.44 L240 833 L240.83 832.22 L242.12 830.99 L243.42 829.76 L244.71 828.53 L246.01 827.3 L247.3 826.07 L248.6 824.83 L249.89 823.6 L251.19 822.36 L252.48 821.13 L253.78 819.89 L255.07 818.65 L256.37 817.41 L257.66 816.17 L258.96 814.93 L260.25 813.69 L261.55 812.44 L262.84 811.2 L264.14 809.95 L265.43 808.7 L266.73 807.46 L268.02 806.21 L269.32 804.96 L270.61 803.71 L271.91 802.45 L273.2 801.2" fill="none" stroke="#f2a03c" stroke-width="1.3" stroke-dasharray="3.8 2.9"/>
<path d="M104.85 927.14 L103.56 927.68 L102.26 928.23 L100.97 928.78 L100 929.2 L99.67 929.34 L98.38 929.91 L97.08 930.47 L95.79 931.04 L94.49 931.62 L93.2 932.19 L91.9 932.77 L90.61 933.36 L89.31 933.94 L88.02 934.53 L86.72 935.13 L85.43 935.72 L84.13 936.32 L82.84 936.93 L81.54 937.53 L80.25 938.14 L78.95 938.75 L77.66 939.37 L76.36 939.99 L75.07 940.61 L73.77 941.23 L72.48 941.86 L71.18 942.49 L69.89 943.12 L68.59 943.76 L67.3 944.4" fill="none" stroke="#f2a03c" stroke-width="1.3" stroke-dasharray="3.8 2.9"/>
<path d="M106.15 926.6 L107.44 926.06 L108.74 925.53 L110.03 925 L111.33 924.48 L112.62 923.96 L113.92 923.44 L115.21 922.92 L116.51 922.4 L117.8 921.88 L119.1 921.37 L120.39 920.85 L121.69 920.34 L122.98 919.82 L124.28 919.31 L125.57 918.79 L126.87 918.27 L128.16 917.75 L129.46 917.22 L130 917 L130.75 916.69 L132.05 916.17 L133.34 915.65 L134.64 915.13 L135.93 914.6 L137.23 914.08 L138.52 913.56 L139.82 913.03 L141.11 912.5 L142.41 911.96 L143.7 911.42 L144.7 911 L145 910.87 L146.29 910.32 L147.59 909.78 L148.88 909.23 L150.18 908.67 L151.47 908.11 L152.77 907.53 L154.06 906.95 L155.36 906.34 L156.65 905.72 L156.9 905.6 L157.95 905.08 L159.24 904.42 L160.54 903.73 L161.83 903.04 L163.13 902.32 L164.42 901.59 L165.72 900.84 L167.01 900.07 L167.8 899.6 L168.31 899.29 L169.6 898.46 L170.9 897.6 L172.19 896.72 L173.49 895.85 L174.78 895 L175.1 894.8 L176.08 894.19 L177.37 893.4 L178.67 892.63 L179.96 891.86 L181.26 891.1 L182.55 890.32 L183.85 889.53 L185 888.8 L185.14 888.71 L186.44 887.87 L187.73 887.02 L189.03 886.16 L190.32 885.28 L191.62 884.4 L192.91 883.51 L194.21 882.61 L195.5 881.7 L196.8 880.79 L198.09 879.87 L199.39 878.94 L200 878.5 L200.68 878.01 L201.98 877.05 L203.27 876.08 L204.57 875.1 L205.86 874.1 L207.16 873.09 L208.45 872.08 L209.75 871.06 L211.04 870.05 L212.34 869.04 L213.63 868.03 L214.93 867.04 L216.22 866.06 L217.52 865.09 L218.81 864.15 L220.11 863.22 L221 862.6" fill="none" stroke="#f2a03c" stroke-width="1.3" stroke-linejoin="round"/>
<path d="M221 862.6 L221.4 862.32 L222.7 861.43 L223.99 860.55 L225.29 859.66 L226.58 858.79 L227.88 857.91 L229.17 857.04 L230.47 856.17 L231.76 855.3 L233.06 854.44 L234.35 853.59 L235.65 852.73 L236.94 851.89 L238.24 851.04 L239.53 850.2 L240.83 849.37 L242.12 848.54 L243.42 847.72 L244.71 846.9 L246.01 846.09 L247.3 845.28 L248.6 844.48 L249.89 843.68 L251.19 842.89 L252.48 842.11 L253.78 841.33 L255.07 840.56 L256.37 839.8 L257.66 839.04 L258.96 838.29 L260.25 837.54 L261.55 836.8 L262.84 836.07 L264.14 835.35 L265.43 834.63 L266.73 833.93 L268.02 833.22 L269.32 832.53 L270.61 831.85 L271.91 831.17 L273.2 830.5" fill="none" stroke="#f2a03c" stroke-width="1.3" stroke-dasharray="3.8 2.9"/>
<path d="M67.3 926 L68.59 925.75 L69.89 925.5 L71.18 925.25 L72.48 925 L73.77 924.74 L75.07 924.49 L76.36 924.24 L77.66 923.99 L78.95 923.74 L80.25 923.48 L81.54 923.23 L82.84 922.98 L84.13 922.72 L85.43 922.47 L86.72 922.22 L88.02 921.96 L89.31 921.71 L90.61 921.45 L91.9 921.2 L93.2 920.94 L94.49 920.69 L95.79 920.43 L97.08 920.18 L98.38 919.92 L99.67 919.66 L100 919.6 L100.97 919.41 L102.26 919.15 L103.56 918.9 L104.85 918.64 L106.15 918.39 L107.44 918.13 L108.74 917.88 L110.03 917.62 L111.33 917.37 L112.62 917.11 L113.92 916.86 L115.21 916.6 L116.51 916.34 L117.8 916.09 L119.1 915.83 L120.39 915.57 L121.69 915.31 L122.98 915.04 L124.28 914.78 L125.57 914.52 L126.87 914.25 L128.16 913.98 L129.46 913.71 L130 913.6 L130.75 913.44 L132.05 913.19 L133.34 912.94 L134.64 912.69 L135.93 912.45 L137.23 912.19 L138.52 911.93 L139.82 911.66 L141.11 911.36 L142.41 911.04 L143.7 910.69 L144.7 910.4 L145 910.31 L146.29 909.86 L147.59 909.35 L148.88 908.77 L150.18 908.15 L151.47 907.5 L152.77 906.82 L154.06 906.12 L155.36 905.42 L156.65 904.73 L156.9 904.6 L157.95 904.04 L159.24 903.33 L160.54 902.6 L161.83 901.85 L163.13 901.09 L164.42 900.3 L165.72 899.51 L167.01 898.7 L167.8 898.2 L168.31 897.87 L169.6 897.01 L170.9 896.12 L172.19 895.22 L173.49 894.31 L174.78 893.42 L175.1 893.2 L176.08 892.54 L177.37 891.68 L178.67 890.82 L179.96 889.97 L181.26 889.11 L182.55 888.25 L183.85 887.38 L185 886.6 L185.14 886.5 L186.44 885.61 L187.73 884.72 L189.03 883.82 L190.32 882.91 L191.62 882.01 L192.91 881.09 L194.21 880.17 L195.5 879.25 L196.8 878.32 L198.09 877.39 L199.39 876.45 L200 876 L200.68 875.5 L201.98 874.56 L203.27 873.6 L204.57 872.65 L205.86 871.69 L207.16 870.73 L208.45 869.76 L209.75 868.79 L211.04 867.81 L212.34 866.83 L213.63 865.84 L214.93 864.85 L216.22 863.85 L217.52 862.85 L218.81 861.83 L220 860.9 L220.11 860.82 L221.4 859.79 L222.7 858.77 L223.99 857.74 L225.29 856.71 L226.58 855.67 L227.88 854.64 L229.17 853.6 L230.47 852.55 L231.76 851.51 L233.06 850.46 L234.35 849.41 L235.65 848.35 L236.94 847.3 L238.24 846.24 L239.53 845.17 L240.83 844.1 L242.12 843.03 L243.42 841.96 L244.71 840.88 L246.01 839.8 L247.3 838.72 L248.6 837.63 L249.89 836.54 L251.19 835.44 L252.48 834.34 L253.78 833.24 L255.07 832.13 L256.37 831.02 L257.66 829.9 L258.96 828.78 L260.25 827.66 L261.55 826.54 L262.84 825.4 L264.14 824.27 L265.43 823.13 L266.73 821.99 L268.02 820.84 L269.32 819.68 L270.61 818.53 L271.91 817.37 L273.2 816.2" fill="none" stroke="#e8313a" stroke-width="1.3" stroke-linejoin="round"/>
<path d="M67.3 956.6 L273.2 834.3" fill="none" stroke="#3a3ae0" stroke-width="1.3" stroke-linejoin="round"/>
</svg>
</body></html>
